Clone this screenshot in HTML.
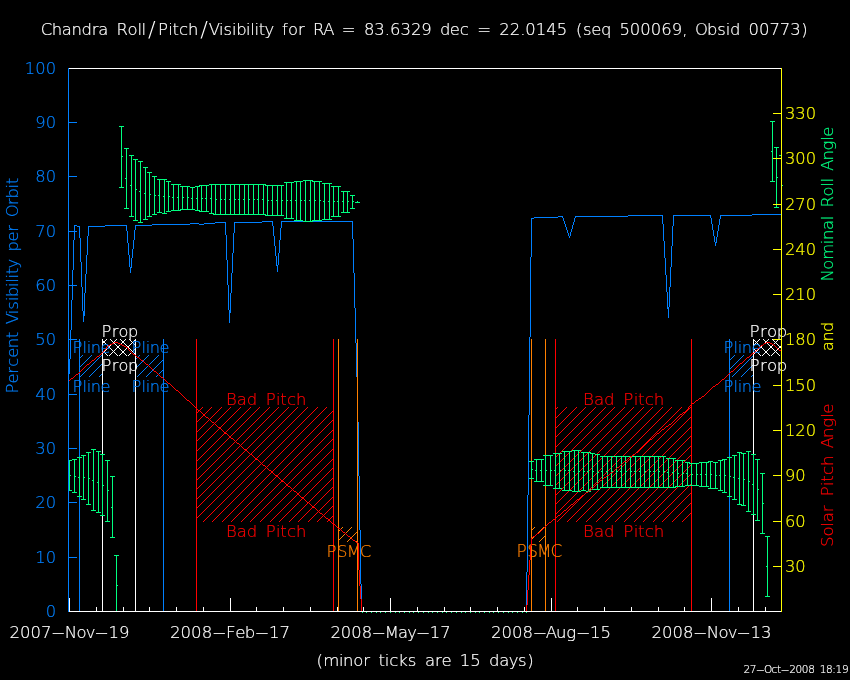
<!DOCTYPE html>
<html><head><meta charset="utf-8"><title>Chandra Roll/Pitch/Visibility</title><style>html,body{margin:0;padding:0;background:#000;width:850px;height:680px;overflow:hidden}svg{display:block;will-change:transform}text{shape-rendering:auto}</style></head><body>
<svg width="850" height="680" viewBox="0 0 850 680" shape-rendering="crispEdges">
<rect x="0" y="0" width="850" height="680" fill="#000"/>
<path fill="#0080ff" d="M752 214h29v1h-29zM628 215h35v1h-35zM673 215h38v1h-38zM720 215h32v1h-32zM558 216h5v1h-5zM575 216h53v1h-53zM662 216h1v8h-1zM673 216h1v10h-1zM710 216h1v2h-1zM720 216h1v3h-1zM534 217h24v1h-24zM562 217h1v1h-1zM575 217h1v1h-1zM531 218h3v1h-3zM563 218h1v3h-1zM574 218h1v4h-1zM711 218h1v6h-1zM531 219h1v38h-1zM719 219h1v6h-1zM262 221h11v1h-11zM281 221h72v1h-72zM564 221h1v3h-1zM215 222h11v1h-11zM234 222h28v1h-28zM272 222h1v4h-1zM281 222h1v6h-1zM352 222h1v17h-1zM573 222h1v3h-1zM190 223h9v1h-9zM204 223h11v1h-11zM225 223h1v12h-1zM234 223h1v10h-1zM152 224h38v1h-38zM199 224h5v1h-5zM565 224h1v3h-1zM663 224h1v17h-1zM712 224h1v6h-1zM74 225h3v1h-3zM105 225h22v1h-22zM135 225h17v1h-17zM572 225h1v4h-1zM718 225h1v6h-1zM74 226h1v14h-1zM77 226h3v1h-3zM88 226h17v1h-17zM126 226h1v5h-1zM135 226h1v4h-1zM273 226h1v10h-1zM672 226h1v20h-1zM79 227h1v11h-1zM88 227h1v9h-1zM566 227h1v3h-1zM280 228h1v12h-1zM571 229h1v3h-1zM134 230h1v10h-1zM567 230h1v3h-1zM713 230h1v6h-1zM127 231h1v12h-1zM717 231h1v6h-1zM570 232h1v4h-1zM233 233h1v20h-1zM568 233h1v3h-1zM226 235h1v25h-1zM87 236h1v19h-1zM274 236h1v10h-1zM569 236h1v2h-1zM714 236h1v6h-1zM716 237h1v6h-1zM80 238h1v24h-1zM353 239h1v34h-1zM73 240h1v30h-1zM133 240h1v9h-1zM279 240h1v13h-1zM664 241h1v17h-1zM715 242h1v4h-1zM128 243h1v12h-1zM275 246h1v10h-1zM671 246h1v21h-1zM132 249h1v9h-1zM232 253h1v20h-1zM278 253h1v12h-1zM86 255h1v19h-1zM129 255h1v12h-1zM276 256h1v10h-1zM530 257h1v80h-1zM131 258h1v10h-1zM665 258h1v17h-1zM227 260h1v25h-1zM81 262h1v25h-1zM277 265h1v7h-1zM130 267h1v6h-1zM670 267h1v20h-1zM72 270h1v30h-1zM231 273h1v20h-1zM354 273h1v35h-1zM85 274h1v19h-1zM666 275h1v17h-1zM228 285h1v25h-1zM82 287h1v24h-1zM669 287h1v20h-1zM667 292h1v17h-1zM84 293h1v23h-1zM230 293h1v20h-1zM71 300h1v30h-1zM668 307h1v11h-1zM355 308h1v35h-1zM229 310h1v13h-1zM83 311h1v11h-1zM70 330h1v29h-1zM529 337h1v78h-1zM356 343h1v34h-1zM69 359h1v15h-1zM68 374h1v27h-1zM357 377h1v45h-1zM528 415h1v80h-1zM358 422h1v54h-1zM359 476h1v54h-1zM527 495h1v77h-1zM360 530h1v54h-1zM526 572h1v39h-1zM361 584h1v27h-1z"/>
<path fill="#ff0000" d="M202 407h1v1h-1zM211 407h1v1h-1zM221 407h1v1h-1zM230 407h1v1h-1zM240 407h1v1h-1zM250 407h1v1h-1zM259 407h1v1h-1zM269 407h1v1h-1zM278 407h1v1h-1zM288 407h1v1h-1zM297 407h1v1h-1zM307 407h1v1h-1zM317 407h1v1h-1zM326 407h1v1h-1zM201 408h1v1h-1zM210 408h1v1h-1zM220 408h1v1h-1zM229 408h1v1h-1zM239 408h1v1h-1zM249 408h1v1h-1zM258 408h1v1h-1zM268 408h1v1h-1zM277 408h1v1h-1zM287 408h1v1h-1zM296 408h1v1h-1zM306 408h1v1h-1zM316 408h1v1h-1zM325 408h1v1h-1zM200 409h1v1h-1zM209 409h1v1h-1zM219 409h1v1h-1zM228 409h1v1h-1zM238 409h1v1h-1zM248 409h1v1h-1zM257 409h1v1h-1zM267 409h1v1h-1zM276 409h1v1h-1zM286 409h1v1h-1zM295 409h1v1h-1zM305 409h1v1h-1zM315 409h1v1h-1zM324 409h1v1h-1zM199 410h1v1h-1zM208 410h1v1h-1zM218 410h1v1h-1zM227 410h1v1h-1zM237 410h1v1h-1zM247 410h1v1h-1zM256 410h1v1h-1zM266 410h1v1h-1zM275 410h1v1h-1zM285 410h1v1h-1zM294 410h1v1h-1zM304 410h1v1h-1zM314 410h1v1h-1zM323 410h1v1h-1zM198 411h1v1h-1zM207 411h1v1h-1zM217 411h1v1h-1zM226 411h1v1h-1zM236 411h1v1h-1zM246 411h1v1h-1zM255 411h1v1h-1zM265 411h1v1h-1zM274 411h1v1h-1zM284 411h1v1h-1zM293 411h1v1h-1zM303 411h1v1h-1zM313 411h1v1h-1zM322 411h1v1h-1zM332 411h1v1h-1zM197 412h1v1h-1zM206 412h1v1h-1zM216 412h1v1h-1zM225 412h1v1h-1zM235 412h1v1h-1zM245 412h1v1h-1zM254 412h1v1h-1zM264 412h1v1h-1zM273 412h1v1h-1zM283 412h1v1h-1zM292 412h1v1h-1zM302 412h1v1h-1zM312 412h1v1h-1zM321 412h1v1h-1zM331 412h1v1h-1zM205 413h1v1h-1zM215 413h1v1h-1zM224 413h1v1h-1zM234 413h1v1h-1zM244 413h1v1h-1zM253 413h1v1h-1zM263 413h1v1h-1zM272 413h1v1h-1zM282 413h1v1h-1zM291 413h1v1h-1zM301 413h1v1h-1zM311 413h1v1h-1zM320 413h1v1h-1zM330 413h1v1h-1zM204 414h1v1h-1zM214 414h1v1h-1zM223 414h1v1h-1zM233 414h1v1h-1zM243 414h1v1h-1zM252 414h1v1h-1zM262 414h1v1h-1zM271 414h1v1h-1zM281 414h1v1h-1zM290 414h1v1h-1zM300 414h1v1h-1zM310 414h1v1h-1zM319 414h1v1h-1zM329 414h1v1h-1zM203 415h1v1h-1zM213 415h1v1h-1zM222 415h1v1h-1zM232 415h1v1h-1zM242 415h1v1h-1zM251 415h1v1h-1zM261 415h1v1h-1zM270 415h1v1h-1zM280 415h1v1h-1zM289 415h1v1h-1zM299 415h1v1h-1zM309 415h1v1h-1zM318 415h1v1h-1zM328 415h1v1h-1zM202 416h1v1h-1zM212 416h1v1h-1zM221 416h1v1h-1zM231 416h1v1h-1zM241 416h1v1h-1zM250 416h1v1h-1zM260 416h1v1h-1zM269 416h1v1h-1zM279 416h1v1h-1zM288 416h1v1h-1zM298 416h1v1h-1zM308 416h1v1h-1zM317 416h1v1h-1zM327 416h1v1h-1zM201 417h1v1h-1zM211 417h1v1h-1zM220 417h1v1h-1zM230 417h1v1h-1zM240 417h1v1h-1zM249 417h1v1h-1zM259 417h1v1h-1zM268 417h1v1h-1zM278 417h1v1h-1zM287 417h1v1h-1zM297 417h1v1h-1zM307 417h1v1h-1zM316 417h1v1h-1zM326 417h1v1h-1zM200 418h1v1h-1zM210 418h1v1h-1zM219 418h1v1h-1zM229 418h1v1h-1zM239 418h1v1h-1zM248 418h1v1h-1zM258 418h1v1h-1zM267 418h1v1h-1zM277 418h1v1h-1zM286 418h1v1h-1zM296 418h1v1h-1zM306 418h1v1h-1zM315 418h1v1h-1zM325 418h1v1h-1zM199 419h1v1h-1zM209 419h1v1h-1zM218 419h1v1h-1zM228 419h1v1h-1zM238 419h1v1h-1zM247 419h1v1h-1zM257 419h1v1h-1zM266 419h1v1h-1zM276 419h1v1h-1zM285 419h1v1h-1zM295 419h1v1h-1zM305 419h1v1h-1zM314 419h1v1h-1zM324 419h1v1h-1zM198 420h1v1h-1zM208 420h1v1h-1zM217 420h1v1h-1zM227 420h1v1h-1zM237 420h1v1h-1zM246 420h1v1h-1zM256 420h1v1h-1zM265 420h1v1h-1zM275 420h1v1h-1zM284 420h1v1h-1zM294 420h1v1h-1zM304 420h1v1h-1zM313 420h1v1h-1zM323 420h1v1h-1zM332 420h1v1h-1zM197 421h1v1h-1zM207 421h1v1h-1zM216 421h1v1h-1zM226 421h1v1h-1zM236 421h1v1h-1zM245 421h1v1h-1zM255 421h1v1h-1zM264 421h1v1h-1zM274 421h1v1h-1zM283 421h1v1h-1zM293 421h1v1h-1zM303 421h1v1h-1zM312 421h1v1h-1zM322 421h1v1h-1zM331 421h1v1h-1zM206 422h1v1h-1zM215 422h1v1h-1zM225 422h1v1h-1zM235 422h1v1h-1zM244 422h1v1h-1zM254 422h1v1h-1zM263 422h1v1h-1zM273 422h1v1h-1zM282 422h1v1h-1zM292 422h1v1h-1zM302 422h1v1h-1zM311 422h1v1h-1zM321 422h1v1h-1zM330 422h1v1h-1zM205 423h1v1h-1zM214 423h1v1h-1zM224 423h1v1h-1zM234 423h1v1h-1zM243 423h1v1h-1zM253 423h1v1h-1zM262 423h1v1h-1zM272 423h1v1h-1zM281 423h1v1h-1zM291 423h1v1h-1zM301 423h1v1h-1zM310 423h1v1h-1zM320 423h1v1h-1zM329 423h1v1h-1zM204 424h1v1h-1zM213 424h1v1h-1zM223 424h1v1h-1zM233 424h1v1h-1zM242 424h1v1h-1zM252 424h1v1h-1zM261 424h1v1h-1zM271 424h1v1h-1zM280 424h1v1h-1zM290 424h1v1h-1zM300 424h1v1h-1zM309 424h1v1h-1zM319 424h1v1h-1zM328 424h1v1h-1zM203 425h1v1h-1zM212 425h1v1h-1zM222 425h1v1h-1zM232 425h1v1h-1zM241 425h1v1h-1zM251 425h1v1h-1zM260 425h1v1h-1zM270 425h1v1h-1zM279 425h1v1h-1zM289 425h1v1h-1zM299 425h1v1h-1zM308 425h1v1h-1zM318 425h1v1h-1zM327 425h1v1h-1zM202 426h1v1h-1zM211 426h1v1h-1zM221 426h1v1h-1zM231 426h1v1h-1zM240 426h1v1h-1zM250 426h1v1h-1zM259 426h1v1h-1zM269 426h1v1h-1zM278 426h1v1h-1zM288 426h1v1h-1zM298 426h1v1h-1zM307 426h1v1h-1zM317 426h1v1h-1zM326 426h1v1h-1zM201 427h1v1h-1zM210 427h1v1h-1zM220 427h1v1h-1zM230 427h1v1h-1zM239 427h1v1h-1zM249 427h1v1h-1zM258 427h1v1h-1zM268 427h1v1h-1zM277 427h1v1h-1zM287 427h1v1h-1zM297 427h1v1h-1zM306 427h1v1h-1zM316 427h1v1h-1zM325 427h1v1h-1zM200 428h1v1h-1zM209 428h1v1h-1zM219 428h1v1h-1zM229 428h1v1h-1zM238 428h1v1h-1zM248 428h1v1h-1zM257 428h1v1h-1zM267 428h1v1h-1zM276 428h1v1h-1zM286 428h1v1h-1zM296 428h1v1h-1zM305 428h1v1h-1zM315 428h1v1h-1zM324 428h1v1h-1zM199 429h1v1h-1zM208 429h1v1h-1zM218 429h1v1h-1zM228 429h1v1h-1zM237 429h1v1h-1zM247 429h1v1h-1zM256 429h1v1h-1zM266 429h1v1h-1zM275 429h1v1h-1zM285 429h1v1h-1zM295 429h1v1h-1zM304 429h1v1h-1zM314 429h1v1h-1zM323 429h1v1h-1zM198 430h1v1h-1zM207 430h1v1h-1zM217 430h1v1h-1zM227 430h1v1h-1zM236 430h1v1h-1zM246 430h1v1h-1zM255 430h1v1h-1zM265 430h1v1h-1zM274 430h1v1h-1zM284 430h1v1h-1zM294 430h1v1h-1zM303 430h1v1h-1zM313 430h1v1h-1zM322 430h1v1h-1zM332 430h1v1h-1zM197 431h1v1h-1zM206 431h1v1h-1zM216 431h1v1h-1zM226 431h1v1h-1zM235 431h1v1h-1zM245 431h1v1h-1zM254 431h1v1h-1zM264 431h1v1h-1zM273 431h1v1h-1zM283 431h1v1h-1zM293 431h1v1h-1zM302 431h1v1h-1zM312 431h1v1h-1zM321 431h1v1h-1zM331 431h1v1h-1zM205 432h1v1h-1zM215 432h1v1h-1zM225 432h1v1h-1zM234 432h1v1h-1zM244 432h1v1h-1zM253 432h1v1h-1zM263 432h1v1h-1zM272 432h1v1h-1zM282 432h1v1h-1zM292 432h1v1h-1zM301 432h1v1h-1zM311 432h1v1h-1zM320 432h1v1h-1zM330 432h1v1h-1zM204 433h1v1h-1zM214 433h1v1h-1zM224 433h1v1h-1zM233 433h1v1h-1zM243 433h1v1h-1zM252 433h1v1h-1zM262 433h1v1h-1zM271 433h1v1h-1zM281 433h1v1h-1zM291 433h1v1h-1zM300 433h1v1h-1zM310 433h1v1h-1zM319 433h1v1h-1zM329 433h1v1h-1zM203 434h1v1h-1zM213 434h1v1h-1zM223 434h1v1h-1zM232 434h1v1h-1zM242 434h1v1h-1zM251 434h1v1h-1zM261 434h1v1h-1zM270 434h1v1h-1zM280 434h1v1h-1zM290 434h1v1h-1zM299 434h1v1h-1zM309 434h1v1h-1zM318 434h1v1h-1zM328 434h1v1h-1zM202 435h1v1h-1zM212 435h1v1h-1zM222 435h1v1h-1zM231 435h1v1h-1zM241 435h1v1h-1zM250 435h1v1h-1zM260 435h1v1h-1zM269 435h1v1h-1zM279 435h1v1h-1zM289 435h1v1h-1zM298 435h1v1h-1zM308 435h1v1h-1zM317 435h1v1h-1zM327 435h1v1h-1zM201 436h1v1h-1zM211 436h1v1h-1zM221 436h1v1h-1zM230 436h1v1h-1zM240 436h1v1h-1zM249 436h1v1h-1zM259 436h1v1h-1zM268 436h1v1h-1zM278 436h1v1h-1zM288 436h1v1h-1zM297 436h1v1h-1zM307 436h1v1h-1zM316 436h1v1h-1zM326 436h1v1h-1zM200 437h1v1h-1zM210 437h1v1h-1zM220 437h1v1h-1zM229 437h1v1h-1zM239 437h1v1h-1zM248 437h1v1h-1zM258 437h1v1h-1zM267 437h1v1h-1zM277 437h1v1h-1zM287 437h1v1h-1zM296 437h1v1h-1zM306 437h1v1h-1zM315 437h1v1h-1zM325 437h1v1h-1zM199 438h1v1h-1zM209 438h1v1h-1zM219 438h1v1h-1zM228 438h1v1h-1zM238 438h1v1h-1zM247 438h1v1h-1zM257 438h1v1h-1zM266 438h1v1h-1zM276 438h1v1h-1zM286 438h1v1h-1zM295 438h1v1h-1zM305 438h1v1h-1zM314 438h1v1h-1zM324 438h1v1h-1zM198 439h1v1h-1zM208 439h1v1h-1zM218 439h1v1h-1zM227 439h1v1h-1zM237 439h1v1h-1zM246 439h1v1h-1zM256 439h1v1h-1zM265 439h1v1h-1zM275 439h1v1h-1zM285 439h1v1h-1zM294 439h1v1h-1zM304 439h1v1h-1zM313 439h1v1h-1zM323 439h1v1h-1zM332 439h1v1h-1zM197 440h1v1h-1zM207 440h1v1h-1zM217 440h1v1h-1zM226 440h1v1h-1zM236 440h1v1h-1zM245 440h1v1h-1zM255 440h1v1h-1zM264 440h1v1h-1zM274 440h1v1h-1zM284 440h1v1h-1zM293 440h1v1h-1zM303 440h1v1h-1zM312 440h1v1h-1zM322 440h1v1h-1zM331 440h1v1h-1zM206 441h1v1h-1zM216 441h1v1h-1zM225 441h1v1h-1zM235 441h1v1h-1zM244 441h1v1h-1zM254 441h1v1h-1zM263 441h1v1h-1zM273 441h1v1h-1zM283 441h1v1h-1zM292 441h1v1h-1zM302 441h1v1h-1zM311 441h1v1h-1zM321 441h1v1h-1zM330 441h1v1h-1zM205 442h1v1h-1zM215 442h1v1h-1zM224 442h1v1h-1zM234 442h1v1h-1zM243 442h1v1h-1zM253 442h1v1h-1zM262 442h1v1h-1zM272 442h1v1h-1zM282 442h1v1h-1zM291 442h1v1h-1zM301 442h1v1h-1zM310 442h1v1h-1zM320 442h1v1h-1zM329 442h1v1h-1zM204 443h1v1h-1zM214 443h1v1h-1zM223 443h1v1h-1zM233 443h1v1h-1zM242 443h1v1h-1zM252 443h1v1h-1zM261 443h1v1h-1zM271 443h1v1h-1zM281 443h1v1h-1zM290 443h1v1h-1zM300 443h1v1h-1zM309 443h1v1h-1zM319 443h1v1h-1zM328 443h1v1h-1zM203 444h1v1h-1zM213 444h1v1h-1zM222 444h1v1h-1zM232 444h1v1h-1zM241 444h1v1h-1zM251 444h1v1h-1zM260 444h1v1h-1zM270 444h1v1h-1zM280 444h1v1h-1zM289 444h1v1h-1zM299 444h1v1h-1zM308 444h1v1h-1zM318 444h1v1h-1zM327 444h1v1h-1zM202 445h1v1h-1zM212 445h1v1h-1zM221 445h1v1h-1zM231 445h1v1h-1zM240 445h1v1h-1zM250 445h1v1h-1zM259 445h1v1h-1zM269 445h1v1h-1zM279 445h1v1h-1zM288 445h1v1h-1zM298 445h1v1h-1zM307 445h1v1h-1zM317 445h1v1h-1zM326 445h1v1h-1zM201 446h1v1h-1zM211 446h1v1h-1zM220 446h1v1h-1zM230 446h1v1h-1zM239 446h1v1h-1zM249 446h1v1h-1zM258 446h1v1h-1zM268 446h1v1h-1zM278 446h1v1h-1zM287 446h1v1h-1zM297 446h1v1h-1zM306 446h1v1h-1zM316 446h1v1h-1zM325 446h1v1h-1zM200 447h1v1h-1zM210 447h1v1h-1zM219 447h1v1h-1zM229 447h1v1h-1zM238 447h1v1h-1zM248 447h1v1h-1zM257 447h1v1h-1zM267 447h1v1h-1zM277 447h1v1h-1zM286 447h1v1h-1zM296 447h1v1h-1zM305 447h1v1h-1zM315 447h1v1h-1zM324 447h1v1h-1zM199 448h1v1h-1zM209 448h1v1h-1zM218 448h1v1h-1zM228 448h1v1h-1zM237 448h1v1h-1zM247 448h1v1h-1zM256 448h1v1h-1zM266 448h1v1h-1zM276 448h1v1h-1zM285 448h1v1h-1zM295 448h1v1h-1zM304 448h1v1h-1zM314 448h1v1h-1zM323 448h1v1h-1zM198 449h1v1h-1zM208 449h1v1h-1zM217 449h1v1h-1zM227 449h1v1h-1zM236 449h1v1h-1zM246 449h1v1h-1zM255 449h1v1h-1zM265 449h1v1h-1zM275 449h1v1h-1zM284 449h1v1h-1zM294 449h1v1h-1zM303 449h1v1h-1zM313 449h1v1h-1zM322 449h1v1h-1zM332 449h1v1h-1zM197 450h1v1h-1zM207 450h1v1h-1zM216 450h1v1h-1zM226 450h1v1h-1zM235 450h1v1h-1zM245 450h1v1h-1zM254 450h1v1h-1zM264 450h1v1h-1zM274 450h1v1h-1zM283 450h1v1h-1zM293 450h1v1h-1zM302 450h1v1h-1zM312 450h1v1h-1zM321 450h1v1h-1zM331 450h1v1h-1zM206 451h1v1h-1zM215 451h1v1h-1zM225 451h1v1h-1zM234 451h1v1h-1zM244 451h1v1h-1zM253 451h1v1h-1zM263 451h1v1h-1zM273 451h1v1h-1zM282 451h1v1h-1zM292 451h1v1h-1zM301 451h1v1h-1zM311 451h1v1h-1zM320 451h1v1h-1zM330 451h1v1h-1zM205 452h1v1h-1zM214 452h1v1h-1zM224 452h1v1h-1zM233 452h1v1h-1zM243 452h1v1h-1zM252 452h1v1h-1zM262 452h1v1h-1zM272 452h1v1h-1zM281 452h1v1h-1zM291 452h1v1h-1zM300 452h1v1h-1zM310 452h1v1h-1zM319 452h1v1h-1zM329 452h1v1h-1zM204 453h1v1h-1zM213 453h1v1h-1zM223 453h1v1h-1zM232 453h1v1h-1zM242 453h1v1h-1zM251 453h1v1h-1zM261 453h1v1h-1zM271 453h1v1h-1zM280 453h1v1h-1zM290 453h1v1h-1zM299 453h1v1h-1zM309 453h1v1h-1zM318 453h1v1h-1zM328 453h1v1h-1zM203 454h1v1h-1zM212 454h1v1h-1zM222 454h1v1h-1zM231 454h1v1h-1zM241 454h1v1h-1zM250 454h1v1h-1zM260 454h1v1h-1zM270 454h1v1h-1zM279 454h1v1h-1zM289 454h1v1h-1zM298 454h1v1h-1zM308 454h1v1h-1zM317 454h1v1h-1zM327 454h1v1h-1zM202 455h1v1h-1zM211 455h1v1h-1zM221 455h1v1h-1zM230 455h1v1h-1zM240 455h1v1h-1zM249 455h1v1h-1zM259 455h1v1h-1zM269 455h1v1h-1zM278 455h1v1h-1zM288 455h1v1h-1zM297 455h1v1h-1zM307 455h1v1h-1zM316 455h1v1h-1zM326 455h1v1h-1zM201 456h1v1h-1zM210 456h1v1h-1zM220 456h1v1h-1zM229 456h1v1h-1zM239 456h1v1h-1zM248 456h1v1h-1zM258 456h1v1h-1zM268 456h1v1h-1zM277 456h1v1h-1zM287 456h1v1h-1zM296 456h1v1h-1zM306 456h1v1h-1zM315 456h1v1h-1zM325 456h1v1h-1zM200 457h1v1h-1zM209 457h1v1h-1zM219 457h1v1h-1zM228 457h1v1h-1zM238 457h1v1h-1zM247 457h1v1h-1zM257 457h1v1h-1zM267 457h1v1h-1zM276 457h1v1h-1zM286 457h1v1h-1zM295 457h1v1h-1zM305 457h1v1h-1zM314 457h1v1h-1zM324 457h1v1h-1zM199 458h1v1h-1zM208 458h1v1h-1zM218 458h1v1h-1zM227 458h1v1h-1zM237 458h1v1h-1zM246 458h1v1h-1zM256 458h1v1h-1zM266 458h1v1h-1zM275 458h1v1h-1zM285 458h1v1h-1zM294 458h1v1h-1zM304 458h1v1h-1zM313 458h1v1h-1zM323 458h1v1h-1zM198 459h1v1h-1zM207 459h1v1h-1zM217 459h1v1h-1zM226 459h1v1h-1zM236 459h1v1h-1zM245 459h1v1h-1zM255 459h1v1h-1zM265 459h1v1h-1zM274 459h1v1h-1zM284 459h1v1h-1zM293 459h1v1h-1zM303 459h1v1h-1zM312 459h1v1h-1zM322 459h1v1h-1zM332 459h1v1h-1zM197 460h1v1h-1zM206 460h1v1h-1zM216 460h1v1h-1zM225 460h1v1h-1zM235 460h1v1h-1zM244 460h1v1h-1zM254 460h1v1h-1zM264 460h1v1h-1zM273 460h1v1h-1zM283 460h1v1h-1zM292 460h1v1h-1zM302 460h1v1h-1zM311 460h1v1h-1zM321 460h1v1h-1zM331 460h1v1h-1zM205 461h1v1h-1zM215 461h1v1h-1zM224 461h1v1h-1zM234 461h1v1h-1zM243 461h1v1h-1zM253 461h1v1h-1zM263 461h1v1h-1zM272 461h1v1h-1zM282 461h1v1h-1zM291 461h1v1h-1zM301 461h1v1h-1zM310 461h1v1h-1zM320 461h1v1h-1zM330 461h1v1h-1zM204 462h1v1h-1zM214 462h1v1h-1zM223 462h1v1h-1zM233 462h1v1h-1zM242 462h1v1h-1zM252 462h1v1h-1zM262 462h1v1h-1zM271 462h1v1h-1zM281 462h1v1h-1zM290 462h1v1h-1zM300 462h1v1h-1zM309 462h1v1h-1zM319 462h1v1h-1zM329 462h1v1h-1zM203 463h1v1h-1zM213 463h1v1h-1zM222 463h1v1h-1zM232 463h1v1h-1zM241 463h1v1h-1zM251 463h1v1h-1zM261 463h1v1h-1zM270 463h1v1h-1zM280 463h1v1h-1zM289 463h1v1h-1zM299 463h1v1h-1zM308 463h1v1h-1zM318 463h1v1h-1zM328 463h1v1h-1zM202 464h1v1h-1zM212 464h1v1h-1zM221 464h1v1h-1zM231 464h1v1h-1zM240 464h1v1h-1zM250 464h1v1h-1zM260 464h1v1h-1zM269 464h1v1h-1zM279 464h1v1h-1zM288 464h1v1h-1zM298 464h1v1h-1zM307 464h1v1h-1zM317 464h1v1h-1zM327 464h1v1h-1zM201 465h1v1h-1zM211 465h1v1h-1zM220 465h1v1h-1zM230 465h1v1h-1zM239 465h1v1h-1zM249 465h1v1h-1zM259 465h1v1h-1zM268 465h1v1h-1zM278 465h1v1h-1zM287 465h1v1h-1zM297 465h1v1h-1zM306 465h1v1h-1zM316 465h1v1h-1zM326 465h1v1h-1zM200 466h1v1h-1zM210 466h1v1h-1zM219 466h1v1h-1zM229 466h1v1h-1zM238 466h1v1h-1zM248 466h1v1h-1zM258 466h1v1h-1zM267 466h1v1h-1zM277 466h1v1h-1zM286 466h1v1h-1zM296 466h1v1h-1zM305 466h1v1h-1zM315 466h1v1h-1zM325 466h1v1h-1zM199 467h1v1h-1zM209 467h1v1h-1zM218 467h1v1h-1zM228 467h1v1h-1zM237 467h1v1h-1zM247 467h1v1h-1zM257 467h1v1h-1zM266 467h1v1h-1zM276 467h1v1h-1zM285 467h1v1h-1zM295 467h1v1h-1zM304 467h1v1h-1zM314 467h1v1h-1zM324 467h1v1h-1zM198 468h1v1h-1zM208 468h1v1h-1zM217 468h1v1h-1zM227 468h1v1h-1zM236 468h1v1h-1zM246 468h1v1h-1zM256 468h1v1h-1zM265 468h1v1h-1zM275 468h1v1h-1zM284 468h1v1h-1zM294 468h1v1h-1zM303 468h1v1h-1zM313 468h1v1h-1zM323 468h1v1h-1zM332 468h1v1h-1zM197 469h1v1h-1zM207 469h1v1h-1zM216 469h1v1h-1zM226 469h1v1h-1zM235 469h1v1h-1zM245 469h1v1h-1zM255 469h1v1h-1zM264 469h1v1h-1zM274 469h1v1h-1zM283 469h1v1h-1zM293 469h1v1h-1zM302 469h1v1h-1zM312 469h1v1h-1zM322 469h1v1h-1zM331 469h1v1h-1zM206 470h1v1h-1zM215 470h1v1h-1zM225 470h1v1h-1zM234 470h1v1h-1zM244 470h1v1h-1zM254 470h1v1h-1zM263 470h1v1h-1zM273 470h1v1h-1zM282 470h1v1h-1zM292 470h1v1h-1zM301 470h1v1h-1zM311 470h1v1h-1zM321 470h1v1h-1zM330 470h1v1h-1zM205 471h1v1h-1zM214 471h1v1h-1zM224 471h1v1h-1zM233 471h1v1h-1zM243 471h1v1h-1zM253 471h1v1h-1zM262 471h1v1h-1zM272 471h1v1h-1zM281 471h1v1h-1zM291 471h1v1h-1zM300 471h1v1h-1zM310 471h1v1h-1zM320 471h1v1h-1zM329 471h1v1h-1zM204 472h1v1h-1zM213 472h1v1h-1zM223 472h1v1h-1zM232 472h1v1h-1zM242 472h1v1h-1zM252 472h1v1h-1zM261 472h1v1h-1zM271 472h1v1h-1zM280 472h1v1h-1zM290 472h1v1h-1zM299 472h1v1h-1zM309 472h1v1h-1zM319 472h1v1h-1zM328 472h1v1h-1zM203 473h1v1h-1zM212 473h1v1h-1zM222 473h1v1h-1zM231 473h1v1h-1zM241 473h1v1h-1zM251 473h1v1h-1zM260 473h1v1h-1zM270 473h1v1h-1zM279 473h1v1h-1zM289 473h1v1h-1zM298 473h1v1h-1zM308 473h1v1h-1zM318 473h1v1h-1zM327 473h1v1h-1zM202 474h1v1h-1zM211 474h1v1h-1zM221 474h1v1h-1zM230 474h1v1h-1zM240 474h1v1h-1zM250 474h1v1h-1zM259 474h1v1h-1zM269 474h1v1h-1zM278 474h1v1h-1zM288 474h1v1h-1zM297 474h1v1h-1zM307 474h1v1h-1zM317 474h1v1h-1zM326 474h1v1h-1zM201 475h1v1h-1zM210 475h1v1h-1zM220 475h1v1h-1zM229 475h1v1h-1zM239 475h1v1h-1zM249 475h1v1h-1zM258 475h1v1h-1zM268 475h1v1h-1zM277 475h1v1h-1zM287 475h1v1h-1zM296 475h1v1h-1zM306 475h1v1h-1zM316 475h1v1h-1zM325 475h1v1h-1zM200 476h1v1h-1zM209 476h1v1h-1zM219 476h1v1h-1zM228 476h1v1h-1zM238 476h1v1h-1zM248 476h1v1h-1zM257 476h1v1h-1zM267 476h1v1h-1zM276 476h1v1h-1zM286 476h1v1h-1zM295 476h1v1h-1zM305 476h1v1h-1zM315 476h1v1h-1zM324 476h1v1h-1zM199 477h1v1h-1zM208 477h1v1h-1zM218 477h1v1h-1zM227 477h1v1h-1zM237 477h1v1h-1zM247 477h1v1h-1zM256 477h1v1h-1zM266 477h1v1h-1zM275 477h1v1h-1zM285 477h1v1h-1zM294 477h1v1h-1zM304 477h1v1h-1zM314 477h1v1h-1zM323 477h1v1h-1zM198 478h1v1h-1zM207 478h1v1h-1zM217 478h1v1h-1zM226 478h1v1h-1zM236 478h1v1h-1zM246 478h1v1h-1zM255 478h1v1h-1zM265 478h1v1h-1zM274 478h1v1h-1zM284 478h1v1h-1zM293 478h1v1h-1zM303 478h1v1h-1zM313 478h1v1h-1zM322 478h1v1h-1zM332 478h1v1h-1zM197 479h1v1h-1zM206 479h1v1h-1zM216 479h1v1h-1zM225 479h1v1h-1zM235 479h1v1h-1zM245 479h1v1h-1zM254 479h1v1h-1zM264 479h1v1h-1zM273 479h1v1h-1zM283 479h1v1h-1zM292 479h1v1h-1zM302 479h1v1h-1zM312 479h1v1h-1zM321 479h1v1h-1zM331 479h1v1h-1zM205 480h1v1h-1zM215 480h1v1h-1zM224 480h1v1h-1zM234 480h1v1h-1zM244 480h1v1h-1zM253 480h1v1h-1zM263 480h1v1h-1zM272 480h1v1h-1zM282 480h1v1h-1zM291 480h1v1h-1zM301 480h1v1h-1zM311 480h1v1h-1zM320 480h1v1h-1zM330 480h1v1h-1zM204 481h1v1h-1zM214 481h1v1h-1zM223 481h1v1h-1zM233 481h1v1h-1zM243 481h1v1h-1zM252 481h1v1h-1zM262 481h1v1h-1zM271 481h1v1h-1zM281 481h1v1h-1zM290 481h1v1h-1zM300 481h1v1h-1zM310 481h1v1h-1zM319 481h1v1h-1zM329 481h1v1h-1zM203 482h1v1h-1zM213 482h1v1h-1zM222 482h1v1h-1zM232 482h1v1h-1zM242 482h1v1h-1zM251 482h1v1h-1zM261 482h1v1h-1zM270 482h1v1h-1zM280 482h1v1h-1zM289 482h1v1h-1zM299 482h1v1h-1zM309 482h1v1h-1zM318 482h1v1h-1zM328 482h1v1h-1zM202 483h1v1h-1zM212 483h1v1h-1zM221 483h1v1h-1zM231 483h1v1h-1zM241 483h1v1h-1zM250 483h1v1h-1zM260 483h1v1h-1zM269 483h1v1h-1zM279 483h1v1h-1zM288 483h1v1h-1zM298 483h1v1h-1zM308 483h1v1h-1zM317 483h1v1h-1zM327 483h1v1h-1zM201 484h1v1h-1zM211 484h1v1h-1zM220 484h1v1h-1zM230 484h1v1h-1zM240 484h1v1h-1zM249 484h1v1h-1zM259 484h1v1h-1zM268 484h1v1h-1zM278 484h1v1h-1zM287 484h1v1h-1zM297 484h1v1h-1zM307 484h1v1h-1zM316 484h1v1h-1zM326 484h1v1h-1zM200 485h1v1h-1zM210 485h1v1h-1zM219 485h1v1h-1zM229 485h1v1h-1zM239 485h1v1h-1zM248 485h1v1h-1zM258 485h1v1h-1zM267 485h1v1h-1zM277 485h1v1h-1zM286 485h1v1h-1zM296 485h1v1h-1zM306 485h1v1h-1zM315 485h1v1h-1zM325 485h1v1h-1zM199 486h1v1h-1zM209 486h1v1h-1zM218 486h1v1h-1zM228 486h1v1h-1zM238 486h1v1h-1zM247 486h1v1h-1zM257 486h1v1h-1zM266 486h1v1h-1zM276 486h1v1h-1zM285 486h1v1h-1zM295 486h1v1h-1zM305 486h1v1h-1zM314 486h1v1h-1zM324 486h1v1h-1zM198 487h1v1h-1zM208 487h1v1h-1zM217 487h1v1h-1zM227 487h1v1h-1zM237 487h1v1h-1zM246 487h1v1h-1zM256 487h1v1h-1zM265 487h1v1h-1zM275 487h1v1h-1zM284 487h1v1h-1zM294 487h1v1h-1zM304 487h1v1h-1zM313 487h1v1h-1zM323 487h1v1h-1zM332 487h1v1h-1zM197 488h1v1h-1zM207 488h1v1h-1zM216 488h1v1h-1zM226 488h1v1h-1zM236 488h1v1h-1zM245 488h1v1h-1zM255 488h1v1h-1zM264 488h1v1h-1zM274 488h1v1h-1zM283 488h1v1h-1zM293 488h1v1h-1zM303 488h1v1h-1zM312 488h1v1h-1zM322 488h1v1h-1zM331 488h1v1h-1zM206 489h1v1h-1zM215 489h1v1h-1zM225 489h1v1h-1zM235 489h1v1h-1zM244 489h1v1h-1zM254 489h1v1h-1zM263 489h1v1h-1zM273 489h1v1h-1zM282 489h1v1h-1zM292 489h1v1h-1zM302 489h1v1h-1zM311 489h1v1h-1zM321 489h1v1h-1zM330 489h1v1h-1zM205 490h1v1h-1zM214 490h1v1h-1zM224 490h1v1h-1zM234 490h1v1h-1zM243 490h1v1h-1zM253 490h1v1h-1zM262 490h1v1h-1zM272 490h1v1h-1zM281 490h1v1h-1zM291 490h1v1h-1zM301 490h1v1h-1zM310 490h1v1h-1zM320 490h1v1h-1zM329 490h1v1h-1zM204 491h1v1h-1zM213 491h1v1h-1zM223 491h1v1h-1zM233 491h1v1h-1zM242 491h1v1h-1zM252 491h1v1h-1zM261 491h1v1h-1zM271 491h1v1h-1zM280 491h1v1h-1zM290 491h1v1h-1zM300 491h1v1h-1zM309 491h1v1h-1zM319 491h1v1h-1zM328 491h1v1h-1zM203 492h1v1h-1zM212 492h1v1h-1zM222 492h1v1h-1zM232 492h1v1h-1zM241 492h1v1h-1zM251 492h1v1h-1zM260 492h1v1h-1zM270 492h1v1h-1zM279 492h1v1h-1zM289 492h1v1h-1zM299 492h1v1h-1zM308 492h1v1h-1zM318 492h1v1h-1zM327 492h1v1h-1zM202 493h1v1h-1zM211 493h1v1h-1zM221 493h1v1h-1zM231 493h1v1h-1zM240 493h1v1h-1zM250 493h1v1h-1zM259 493h1v1h-1zM269 493h1v1h-1zM278 493h1v1h-1zM288 493h1v1h-1zM298 493h1v1h-1zM307 493h1v1h-1zM317 493h1v1h-1zM326 493h1v1h-1zM201 494h1v1h-1zM210 494h1v1h-1zM220 494h1v1h-1zM230 494h1v1h-1zM239 494h1v1h-1zM249 494h1v1h-1zM258 494h1v1h-1zM268 494h1v1h-1zM277 494h1v1h-1zM287 494h1v1h-1zM297 494h1v1h-1zM306 494h1v1h-1zM316 494h1v1h-1zM325 494h1v1h-1zM200 495h1v1h-1zM209 495h1v1h-1zM219 495h1v1h-1zM229 495h1v1h-1zM238 495h1v1h-1zM248 495h1v1h-1zM257 495h1v1h-1zM267 495h1v1h-1zM276 495h1v1h-1zM286 495h1v1h-1zM296 495h1v1h-1zM305 495h1v1h-1zM315 495h1v1h-1zM324 495h1v1h-1zM199 496h1v1h-1zM208 496h1v1h-1zM218 496h1v1h-1zM228 496h1v1h-1zM237 496h1v1h-1zM247 496h1v1h-1zM256 496h1v1h-1zM266 496h1v1h-1zM275 496h1v1h-1zM285 496h1v1h-1zM295 496h1v1h-1zM304 496h1v1h-1zM314 496h1v1h-1zM323 496h1v1h-1zM198 497h1v1h-1zM207 497h1v1h-1zM217 497h1v1h-1zM227 497h1v1h-1zM236 497h1v1h-1zM246 497h1v1h-1zM255 497h1v1h-1zM265 497h1v1h-1zM274 497h1v1h-1zM284 497h1v1h-1zM294 497h1v1h-1zM303 497h1v1h-1zM313 497h1v1h-1zM322 497h1v1h-1zM332 497h1v1h-1zM197 498h1v1h-1zM206 498h1v1h-1zM216 498h1v1h-1zM226 498h1v1h-1zM235 498h1v1h-1zM245 498h1v1h-1zM254 498h1v1h-1zM264 498h1v1h-1zM273 498h1v1h-1zM283 498h1v1h-1zM293 498h1v1h-1zM302 498h1v1h-1zM312 498h1v1h-1zM321 498h1v1h-1zM331 498h1v1h-1zM205 499h1v1h-1zM215 499h1v1h-1zM225 499h1v1h-1zM234 499h1v1h-1zM244 499h1v1h-1zM253 499h1v1h-1zM263 499h1v1h-1zM272 499h1v1h-1zM282 499h1v1h-1zM292 499h1v1h-1zM301 499h1v1h-1zM311 499h1v1h-1zM320 499h1v1h-1zM330 499h1v1h-1zM204 500h1v1h-1zM214 500h1v1h-1zM224 500h1v1h-1zM233 500h1v1h-1zM243 500h1v1h-1zM252 500h1v1h-1zM262 500h1v1h-1zM271 500h1v1h-1zM281 500h1v1h-1zM291 500h1v1h-1zM300 500h1v1h-1zM310 500h1v1h-1zM319 500h1v1h-1zM329 500h1v1h-1zM203 501h1v1h-1zM213 501h1v1h-1zM223 501h1v1h-1zM232 501h1v1h-1zM242 501h1v1h-1zM251 501h1v1h-1zM261 501h1v1h-1zM270 501h1v1h-1zM280 501h1v1h-1zM290 501h1v1h-1zM299 501h1v1h-1zM309 501h1v1h-1zM318 501h1v1h-1zM328 501h1v1h-1zM202 502h1v1h-1zM212 502h1v1h-1zM222 502h1v1h-1zM231 502h1v1h-1zM241 502h1v1h-1zM250 502h1v1h-1zM260 502h1v1h-1zM269 502h1v1h-1zM279 502h1v1h-1zM289 502h1v1h-1zM298 502h1v1h-1zM308 502h1v1h-1zM317 502h1v1h-1zM327 502h1v1h-1zM201 503h1v1h-1zM211 503h1v1h-1zM221 503h1v1h-1zM230 503h1v1h-1zM240 503h1v1h-1zM249 503h1v1h-1zM259 503h1v1h-1zM268 503h1v1h-1zM278 503h1v1h-1zM288 503h1v1h-1zM297 503h1v1h-1zM307 503h1v1h-1zM316 503h1v1h-1zM326 503h1v1h-1zM200 504h1v1h-1zM210 504h1v1h-1zM220 504h1v1h-1zM229 504h1v1h-1zM239 504h1v1h-1zM248 504h1v1h-1zM258 504h1v1h-1zM267 504h1v1h-1zM277 504h1v1h-1zM287 504h1v1h-1zM296 504h1v1h-1zM306 504h1v1h-1zM315 504h1v1h-1zM325 504h1v1h-1zM199 505h1v1h-1zM209 505h1v1h-1zM219 505h1v1h-1zM228 505h1v1h-1zM238 505h1v1h-1zM247 505h1v1h-1zM257 505h1v1h-1zM266 505h1v1h-1zM276 505h1v1h-1zM286 505h1v1h-1zM295 505h1v1h-1zM305 505h1v1h-1zM314 505h1v1h-1zM324 505h1v1h-1zM198 506h1v1h-1zM208 506h1v1h-1zM218 506h1v1h-1zM227 506h1v1h-1zM237 506h1v1h-1zM246 506h1v1h-1zM256 506h1v1h-1zM265 506h1v1h-1zM275 506h1v1h-1zM285 506h1v1h-1zM294 506h1v1h-1zM304 506h1v1h-1zM313 506h1v1h-1zM323 506h1v1h-1zM332 506h1v1h-1zM197 507h1v1h-1zM207 507h1v1h-1zM217 507h1v1h-1zM226 507h1v1h-1zM236 507h1v1h-1zM245 507h1v1h-1zM255 507h1v1h-1zM264 507h1v1h-1zM274 507h1v1h-1zM284 507h1v1h-1zM293 507h1v1h-1zM303 507h1v1h-1zM312 507h1v1h-1zM322 507h1v1h-1zM331 507h1v1h-1zM206 508h1v1h-1zM216 508h1v1h-1zM225 508h1v1h-1zM235 508h1v1h-1zM244 508h1v1h-1zM254 508h1v1h-1zM263 508h1v1h-1zM273 508h1v1h-1zM283 508h1v1h-1zM292 508h1v1h-1zM302 508h1v1h-1zM311 508h1v1h-1zM321 508h1v1h-1zM330 508h1v1h-1zM205 509h1v1h-1zM215 509h1v1h-1zM224 509h1v1h-1zM234 509h1v1h-1zM243 509h1v1h-1zM253 509h1v1h-1zM262 509h1v1h-1zM272 509h1v1h-1zM282 509h1v1h-1zM291 509h1v1h-1zM301 509h1v1h-1zM310 509h1v1h-1zM320 509h1v1h-1zM329 509h1v1h-1zM204 510h1v1h-1zM214 510h1v1h-1zM223 510h1v1h-1zM233 510h1v1h-1zM242 510h1v1h-1zM252 510h1v1h-1zM261 510h1v1h-1zM271 510h1v1h-1zM281 510h1v1h-1zM290 510h1v1h-1zM300 510h1v1h-1zM309 510h1v1h-1zM319 510h1v1h-1zM328 510h1v1h-1zM203 511h1v1h-1zM213 511h1v1h-1zM222 511h1v1h-1zM232 511h1v1h-1zM241 511h1v1h-1zM251 511h1v1h-1zM260 511h1v1h-1zM270 511h1v1h-1zM280 511h1v1h-1zM289 511h1v1h-1zM299 511h1v1h-1zM308 511h1v1h-1zM318 511h1v1h-1zM327 511h1v1h-1zM202 512h1v1h-1zM212 512h1v1h-1zM221 512h1v1h-1zM231 512h1v1h-1zM240 512h1v1h-1zM250 512h1v1h-1zM259 512h1v1h-1zM269 512h1v1h-1zM279 512h1v1h-1zM288 512h1v1h-1zM298 512h1v1h-1zM307 512h1v1h-1zM317 512h1v1h-1zM326 512h1v1h-1zM201 513h1v1h-1zM211 513h1v1h-1zM220 513h1v1h-1zM230 513h1v1h-1zM239 513h1v1h-1zM249 513h1v1h-1zM258 513h1v1h-1zM268 513h1v1h-1zM278 513h1v1h-1zM287 513h1v1h-1zM297 513h1v1h-1zM306 513h1v1h-1zM316 513h1v1h-1zM325 513h1v1h-1zM200 514h1v1h-1zM210 514h1v1h-1zM219 514h1v1h-1zM229 514h1v1h-1zM238 514h1v1h-1zM248 514h1v1h-1zM257 514h1v1h-1zM267 514h1v1h-1zM277 514h1v1h-1zM286 514h1v1h-1zM296 514h1v1h-1zM305 514h1v1h-1zM315 514h1v1h-1zM324 514h1v1h-1zM199 515h1v1h-1zM209 515h1v1h-1zM218 515h1v1h-1zM228 515h1v1h-1zM237 515h1v1h-1zM247 515h1v1h-1zM256 515h1v1h-1zM266 515h1v1h-1zM276 515h1v1h-1zM285 515h1v1h-1zM295 515h1v1h-1zM304 515h1v1h-1zM314 515h1v1h-1zM323 515h1v1h-1zM198 516h1v1h-1zM208 516h1v1h-1zM217 516h1v1h-1zM227 516h1v1h-1zM236 516h1v1h-1zM246 516h1v1h-1zM255 516h1v1h-1zM265 516h1v1h-1zM275 516h1v1h-1zM284 516h1v1h-1zM294 516h1v1h-1zM303 516h1v1h-1zM313 516h1v1h-1zM322 516h1v1h-1zM332 516h1v1h-1zM197 517h1v1h-1zM207 517h1v1h-1zM216 517h1v1h-1zM226 517h1v1h-1zM235 517h1v1h-1zM245 517h1v1h-1zM254 517h1v1h-1zM264 517h1v1h-1zM274 517h1v1h-1zM283 517h1v1h-1zM293 517h1v1h-1zM302 517h1v1h-1zM312 517h1v1h-1zM321 517h1v1h-1zM331 517h1v1h-1zM206 518h1v1h-1zM215 518h1v1h-1zM225 518h1v1h-1zM234 518h1v1h-1zM244 518h1v1h-1zM253 518h1v1h-1zM263 518h1v1h-1zM273 518h1v1h-1zM282 518h1v1h-1zM292 518h1v1h-1zM301 518h1v1h-1zM311 518h1v1h-1zM320 518h1v1h-1zM330 518h1v1h-1zM205 519h1v1h-1zM214 519h1v1h-1zM224 519h1v1h-1zM233 519h1v1h-1zM243 519h1v1h-1zM252 519h1v1h-1zM262 519h1v1h-1zM272 519h1v1h-1zM281 519h1v1h-1zM291 519h1v1h-1zM300 519h1v1h-1zM310 519h1v1h-1zM319 519h1v1h-1zM329 519h1v1h-1zM204 520h1v1h-1zM213 520h1v1h-1zM223 520h1v1h-1zM232 520h1v1h-1zM242 520h1v1h-1zM251 520h1v1h-1zM261 520h1v1h-1zM271 520h1v1h-1zM280 520h1v1h-1zM290 520h1v1h-1zM299 520h1v1h-1zM309 520h1v1h-1zM318 520h1v1h-1zM328 520h1v1h-1zM203 521h1v1h-1zM212 521h1v1h-1zM222 521h1v1h-1zM231 521h1v1h-1zM241 521h1v1h-1zM250 521h1v1h-1zM260 521h1v1h-1zM270 521h1v1h-1zM279 521h1v1h-1zM289 521h1v1h-1zM298 521h1v1h-1zM308 521h1v1h-1zM317 521h1v1h-1zM327 521h1v1h-1z"/>
<path fill="#ff0000" d="M557 407h1v1h-1zM566 407h1v1h-1zM576 407h1v1h-1zM585 407h1v1h-1zM595 407h1v1h-1zM605 407h1v1h-1zM614 407h1v1h-1zM624 407h1v1h-1zM633 407h1v1h-1zM643 407h1v1h-1zM652 407h1v1h-1zM662 407h1v1h-1zM671 407h1v1h-1zM681 407h1v1h-1zM690 407h1v1h-1zM556 408h1v1h-1zM565 408h1v1h-1zM575 408h1v1h-1zM584 408h1v1h-1zM594 408h1v1h-1zM604 408h1v1h-1zM613 408h1v1h-1zM623 408h1v1h-1zM632 408h1v1h-1zM642 408h1v1h-1zM651 408h1v1h-1zM661 408h1v1h-1zM670 408h1v1h-1zM680 408h1v1h-1zM689 408h1v1h-1zM564 409h1v1h-1zM574 409h1v1h-1zM583 409h1v1h-1zM593 409h1v1h-1zM603 409h1v1h-1zM612 409h1v1h-1zM622 409h1v1h-1zM631 409h1v1h-1zM641 409h1v1h-1zM650 409h1v1h-1zM660 409h1v1h-1zM669 409h1v1h-1zM679 409h1v1h-1zM688 409h1v1h-1zM563 410h1v1h-1zM573 410h1v1h-1zM582 410h1v1h-1zM592 410h1v1h-1zM602 410h1v1h-1zM611 410h1v1h-1zM621 410h1v1h-1zM630 410h1v1h-1zM640 410h1v1h-1zM649 410h1v1h-1zM659 410h1v1h-1zM668 410h1v1h-1zM678 410h1v1h-1zM687 410h1v1h-1zM562 411h1v1h-1zM572 411h1v1h-1zM581 411h1v1h-1zM591 411h1v1h-1zM601 411h1v1h-1zM610 411h1v1h-1zM620 411h1v1h-1zM629 411h1v1h-1zM639 411h1v1h-1zM648 411h1v1h-1zM658 411h1v1h-1zM667 411h1v1h-1zM677 411h1v1h-1zM686 411h1v1h-1zM561 412h1v1h-1zM571 412h1v1h-1zM580 412h1v1h-1zM590 412h1v1h-1zM600 412h1v1h-1zM609 412h1v1h-1zM619 412h1v1h-1zM628 412h1v1h-1zM638 412h1v1h-1zM647 412h1v1h-1zM657 412h1v1h-1zM666 412h1v1h-1zM676 412h1v1h-1zM685 412h1v1h-1zM560 413h1v1h-1zM570 413h1v1h-1zM579 413h1v1h-1zM589 413h1v1h-1zM599 413h1v1h-1zM608 413h1v1h-1zM618 413h1v1h-1zM627 413h1v1h-1zM637 413h1v1h-1zM646 413h1v1h-1zM656 413h1v1h-1zM665 413h1v1h-1zM675 413h1v1h-1zM684 413h1v1h-1zM559 414h1v1h-1zM569 414h1v1h-1zM578 414h1v1h-1zM588 414h1v1h-1zM598 414h1v1h-1zM607 414h1v1h-1zM617 414h1v1h-1zM626 414h1v1h-1zM636 414h1v1h-1zM645 414h1v1h-1zM655 414h1v1h-1zM664 414h1v1h-1zM674 414h1v1h-1zM683 414h1v1h-1zM558 415h1v1h-1zM568 415h1v1h-1zM577 415h1v1h-1zM587 415h1v1h-1zM597 415h1v1h-1zM606 415h1v1h-1zM616 415h1v1h-1zM625 415h1v1h-1zM635 415h1v1h-1zM644 415h1v1h-1zM654 415h1v1h-1zM663 415h1v1h-1zM673 415h1v1h-1zM682 415h1v1h-1zM557 416h1v1h-1zM567 416h1v1h-1zM576 416h1v1h-1zM586 416h1v1h-1zM596 416h1v1h-1zM605 416h1v1h-1zM615 416h1v1h-1zM624 416h1v1h-1zM634 416h1v1h-1zM643 416h1v1h-1zM653 416h1v1h-1zM662 416h1v1h-1zM672 416h1v1h-1zM681 416h1v1h-1zM556 417h1v1h-1zM566 417h1v1h-1zM575 417h1v1h-1zM585 417h1v1h-1zM595 417h1v1h-1zM604 417h1v1h-1zM614 417h1v1h-1zM623 417h1v1h-1zM633 417h1v1h-1zM642 417h1v1h-1zM652 417h1v1h-1zM661 417h1v1h-1zM671 417h1v1h-1zM680 417h1v1h-1zM690 417h1v1h-1zM565 418h1v1h-1zM574 418h1v1h-1zM584 418h1v1h-1zM594 418h1v1h-1zM603 418h1v1h-1zM613 418h1v1h-1zM622 418h1v1h-1zM632 418h1v1h-1zM641 418h1v1h-1zM651 418h1v1h-1zM660 418h1v1h-1zM670 418h1v1h-1zM679 418h1v1h-1zM689 418h1v1h-1zM564 419h1v1h-1zM573 419h1v1h-1zM583 419h1v1h-1zM593 419h1v1h-1zM602 419h1v1h-1zM612 419h1v1h-1zM621 419h1v1h-1zM631 419h1v1h-1zM640 419h1v1h-1zM650 419h1v1h-1zM659 419h1v1h-1zM669 419h1v1h-1zM678 419h1v1h-1zM688 419h1v1h-1zM563 420h1v1h-1zM572 420h1v1h-1zM582 420h1v1h-1zM592 420h1v1h-1zM601 420h1v1h-1zM611 420h1v1h-1zM620 420h1v1h-1zM630 420h1v1h-1zM639 420h1v1h-1zM649 420h1v1h-1zM658 420h1v1h-1zM668 420h1v1h-1zM677 420h1v1h-1zM687 420h1v1h-1zM562 421h1v1h-1zM571 421h1v1h-1zM581 421h1v1h-1zM591 421h1v1h-1zM600 421h1v1h-1zM610 421h1v1h-1zM619 421h1v1h-1zM629 421h1v1h-1zM638 421h1v1h-1zM648 421h1v1h-1zM657 421h1v1h-1zM667 421h1v1h-1zM676 421h1v1h-1zM686 421h1v1h-1zM561 422h1v1h-1zM570 422h1v1h-1zM580 422h1v1h-1zM590 422h1v1h-1zM599 422h1v1h-1zM609 422h1v1h-1zM618 422h1v1h-1zM628 422h1v1h-1zM637 422h1v1h-1zM647 422h1v1h-1zM656 422h1v1h-1zM666 422h1v1h-1zM675 422h1v1h-1zM685 422h1v1h-1zM560 423h1v1h-1zM569 423h1v1h-1zM579 423h1v1h-1zM589 423h1v1h-1zM598 423h1v1h-1zM608 423h1v1h-1zM617 423h1v1h-1zM627 423h1v1h-1zM636 423h1v1h-1zM646 423h1v1h-1zM655 423h1v1h-1zM665 423h1v1h-1zM674 423h1v1h-1zM684 423h1v1h-1zM559 424h1v1h-1zM568 424h1v1h-1zM578 424h1v1h-1zM588 424h1v1h-1zM597 424h1v1h-1zM607 424h1v1h-1zM616 424h1v1h-1zM626 424h1v1h-1zM635 424h1v1h-1zM645 424h1v1h-1zM654 424h1v1h-1zM664 424h1v1h-1zM673 424h1v1h-1zM683 424h1v1h-1zM558 425h1v1h-1zM567 425h1v1h-1zM577 425h1v1h-1zM587 425h1v1h-1zM596 425h1v1h-1zM606 425h1v1h-1zM615 425h1v1h-1zM625 425h1v1h-1zM634 425h1v1h-1zM644 425h1v1h-1zM653 425h1v1h-1zM663 425h1v1h-1zM672 425h1v1h-1zM682 425h1v1h-1zM557 426h1v1h-1zM566 426h1v1h-1zM576 426h1v1h-1zM586 426h1v1h-1zM595 426h1v1h-1zM605 426h1v1h-1zM614 426h1v1h-1zM624 426h1v1h-1zM633 426h1v1h-1zM643 426h1v1h-1zM652 426h1v1h-1zM662 426h1v1h-1zM671 426h1v1h-1zM681 426h1v1h-1zM556 427h1v1h-1zM565 427h1v1h-1zM575 427h1v1h-1zM585 427h1v1h-1zM594 427h1v1h-1zM604 427h1v1h-1zM613 427h1v1h-1zM623 427h1v1h-1zM632 427h1v1h-1zM642 427h1v1h-1zM651 427h1v1h-1zM661 427h1v1h-1zM670 427h1v1h-1zM680 427h1v1h-1zM690 427h1v1h-1zM564 428h1v1h-1zM574 428h1v1h-1zM584 428h1v1h-1zM593 428h1v1h-1zM603 428h1v1h-1zM612 428h1v1h-1zM622 428h1v1h-1zM631 428h1v1h-1zM641 428h1v1h-1zM650 428h1v1h-1zM660 428h1v1h-1zM669 428h1v1h-1zM679 428h1v1h-1zM689 428h1v1h-1zM563 429h1v1h-1zM573 429h1v1h-1zM583 429h1v1h-1zM592 429h1v1h-1zM602 429h1v1h-1zM611 429h1v1h-1zM621 429h1v1h-1zM630 429h1v1h-1zM640 429h1v1h-1zM649 429h1v1h-1zM659 429h1v1h-1zM668 429h1v1h-1zM678 429h1v1h-1zM688 429h1v1h-1zM562 430h1v1h-1zM572 430h1v1h-1zM582 430h1v1h-1zM591 430h1v1h-1zM601 430h1v1h-1zM610 430h1v1h-1zM620 430h1v1h-1zM629 430h1v1h-1zM639 430h1v1h-1zM648 430h1v1h-1zM658 430h1v1h-1zM667 430h1v1h-1zM677 430h1v1h-1zM687 430h1v1h-1zM561 431h1v1h-1zM571 431h1v1h-1zM581 431h1v1h-1zM590 431h1v1h-1zM600 431h1v1h-1zM609 431h1v1h-1zM619 431h1v1h-1zM628 431h1v1h-1zM638 431h1v1h-1zM647 431h1v1h-1zM657 431h1v1h-1zM666 431h1v1h-1zM676 431h1v1h-1zM686 431h1v1h-1zM560 432h1v1h-1zM570 432h1v1h-1zM580 432h1v1h-1zM589 432h1v1h-1zM599 432h1v1h-1zM608 432h1v1h-1zM618 432h1v1h-1zM627 432h1v1h-1zM637 432h1v1h-1zM646 432h1v1h-1zM656 432h1v1h-1zM665 432h1v1h-1zM675 432h1v1h-1zM685 432h1v1h-1zM559 433h1v1h-1zM569 433h1v1h-1zM579 433h1v1h-1zM588 433h1v1h-1zM598 433h1v1h-1zM607 433h1v1h-1zM617 433h1v1h-1zM626 433h1v1h-1zM636 433h1v1h-1zM645 433h1v1h-1zM655 433h1v1h-1zM664 433h1v1h-1zM674 433h1v1h-1zM684 433h1v1h-1zM558 434h1v1h-1zM568 434h1v1h-1zM578 434h1v1h-1zM587 434h1v1h-1zM597 434h1v1h-1zM606 434h1v1h-1zM616 434h1v1h-1zM625 434h1v1h-1zM635 434h1v1h-1zM644 434h1v1h-1zM654 434h1v1h-1zM663 434h1v1h-1zM673 434h1v1h-1zM683 434h1v1h-1zM557 435h1v1h-1zM567 435h1v1h-1zM577 435h1v1h-1zM586 435h1v1h-1zM596 435h1v1h-1zM605 435h1v1h-1zM615 435h1v1h-1zM624 435h1v1h-1zM634 435h1v1h-1zM643 435h1v1h-1zM653 435h1v1h-1zM662 435h1v1h-1zM672 435h1v1h-1zM682 435h1v1h-1zM556 436h1v1h-1zM566 436h1v1h-1zM576 436h1v1h-1zM585 436h1v1h-1zM595 436h1v1h-1zM604 436h1v1h-1zM614 436h1v1h-1zM623 436h1v1h-1zM633 436h1v1h-1zM642 436h1v1h-1zM652 436h1v1h-1zM661 436h1v1h-1zM671 436h1v1h-1zM681 436h1v1h-1zM690 436h1v1h-1zM565 437h1v1h-1zM575 437h1v1h-1zM584 437h1v1h-1zM594 437h1v1h-1zM603 437h1v1h-1zM613 437h1v1h-1zM622 437h1v1h-1zM632 437h1v1h-1zM641 437h1v1h-1zM651 437h1v1h-1zM660 437h1v1h-1zM670 437h1v1h-1zM680 437h1v1h-1zM689 437h1v1h-1zM564 438h1v1h-1zM574 438h1v1h-1zM583 438h1v1h-1zM593 438h1v1h-1zM602 438h1v1h-1zM612 438h1v1h-1zM621 438h1v1h-1zM631 438h1v1h-1zM640 438h1v1h-1zM650 438h1v1h-1zM659 438h1v1h-1zM669 438h1v1h-1zM679 438h1v1h-1zM688 438h1v1h-1zM563 439h1v1h-1zM573 439h1v1h-1zM582 439h1v1h-1zM592 439h1v1h-1zM601 439h1v1h-1zM611 439h1v1h-1zM620 439h1v1h-1zM630 439h1v1h-1zM639 439h1v1h-1zM649 439h1v1h-1zM658 439h1v1h-1zM668 439h1v1h-1zM678 439h1v1h-1zM687 439h1v1h-1zM562 440h1v1h-1zM572 440h1v1h-1zM581 440h1v1h-1zM591 440h1v1h-1zM600 440h1v1h-1zM610 440h1v1h-1zM619 440h1v1h-1zM629 440h1v1h-1zM638 440h1v1h-1zM648 440h1v1h-1zM657 440h1v1h-1zM667 440h1v1h-1zM677 440h1v1h-1zM686 440h1v1h-1zM561 441h1v1h-1zM571 441h1v1h-1zM580 441h1v1h-1zM590 441h1v1h-1zM599 441h1v1h-1zM609 441h1v1h-1zM618 441h1v1h-1zM628 441h1v1h-1zM637 441h1v1h-1zM647 441h1v1h-1zM656 441h1v1h-1zM666 441h1v1h-1zM676 441h1v1h-1zM685 441h1v1h-1zM560 442h1v1h-1zM570 442h1v1h-1zM579 442h1v1h-1zM589 442h1v1h-1zM598 442h1v1h-1zM608 442h1v1h-1zM617 442h1v1h-1zM627 442h1v1h-1zM636 442h1v1h-1zM646 442h1v1h-1zM655 442h1v1h-1zM665 442h1v1h-1zM675 442h1v1h-1zM684 442h1v1h-1zM559 443h1v1h-1zM569 443h1v1h-1zM578 443h1v1h-1zM588 443h1v1h-1zM597 443h1v1h-1zM607 443h1v1h-1zM616 443h1v1h-1zM626 443h1v1h-1zM635 443h1v1h-1zM645 443h1v1h-1zM654 443h1v1h-1zM664 443h1v1h-1zM674 443h1v1h-1zM683 443h1v1h-1zM558 444h1v1h-1zM568 444h1v1h-1zM577 444h1v1h-1zM587 444h1v1h-1zM596 444h1v1h-1zM606 444h1v1h-1zM615 444h1v1h-1zM625 444h1v1h-1zM634 444h1v1h-1zM644 444h1v1h-1zM653 444h1v1h-1zM663 444h1v1h-1zM673 444h1v1h-1zM682 444h1v1h-1zM557 445h1v1h-1zM567 445h1v1h-1zM576 445h1v1h-1zM586 445h1v1h-1zM595 445h1v1h-1zM605 445h1v1h-1zM614 445h1v1h-1zM624 445h1v1h-1zM633 445h1v1h-1zM643 445h1v1h-1zM652 445h1v1h-1zM662 445h1v1h-1zM672 445h1v1h-1zM681 445h1v1h-1zM556 446h1v1h-1zM566 446h1v1h-1zM575 446h1v1h-1zM585 446h1v1h-1zM594 446h1v1h-1zM604 446h1v1h-1zM613 446h1v1h-1zM623 446h1v1h-1zM632 446h1v1h-1zM642 446h1v1h-1zM651 446h1v1h-1zM661 446h1v1h-1zM671 446h1v1h-1zM680 446h1v1h-1zM690 446h1v1h-1zM565 447h1v1h-1zM574 447h1v1h-1zM584 447h1v1h-1zM593 447h1v1h-1zM603 447h1v1h-1zM612 447h1v1h-1zM622 447h1v1h-1zM631 447h1v1h-1zM641 447h1v1h-1zM650 447h1v1h-1zM660 447h1v1h-1zM670 447h1v1h-1zM679 447h1v1h-1zM689 447h1v1h-1zM564 448h1v1h-1zM573 448h1v1h-1zM583 448h1v1h-1zM592 448h1v1h-1zM602 448h1v1h-1zM611 448h1v1h-1zM621 448h1v1h-1zM630 448h1v1h-1zM640 448h1v1h-1zM649 448h1v1h-1zM659 448h1v1h-1zM669 448h1v1h-1zM678 448h1v1h-1zM688 448h1v1h-1zM563 449h1v1h-1zM572 449h1v1h-1zM582 449h1v1h-1zM591 449h1v1h-1zM601 449h1v1h-1zM610 449h1v1h-1zM620 449h1v1h-1zM629 449h1v1h-1zM639 449h1v1h-1zM648 449h1v1h-1zM658 449h1v1h-1zM668 449h1v1h-1zM677 449h1v1h-1zM687 449h1v1h-1zM562 450h1v1h-1zM571 450h1v1h-1zM581 450h1v1h-1zM590 450h1v1h-1zM600 450h1v1h-1zM609 450h1v1h-1zM619 450h1v1h-1zM628 450h1v1h-1zM638 450h1v1h-1zM647 450h1v1h-1zM657 450h1v1h-1zM667 450h1v1h-1zM676 450h1v1h-1zM686 450h1v1h-1zM561 451h1v1h-1zM570 451h1v1h-1zM580 451h1v1h-1zM589 451h1v1h-1zM599 451h1v1h-1zM608 451h1v1h-1zM618 451h1v1h-1zM627 451h1v1h-1zM637 451h1v1h-1zM646 451h1v1h-1zM656 451h1v1h-1zM666 451h1v1h-1zM675 451h1v1h-1zM685 451h1v1h-1zM560 452h1v1h-1zM569 452h1v1h-1zM579 452h1v1h-1zM588 452h1v1h-1zM598 452h1v1h-1zM607 452h1v1h-1zM617 452h1v1h-1zM626 452h1v1h-1zM636 452h1v1h-1zM645 452h1v1h-1zM655 452h1v1h-1zM665 452h1v1h-1zM674 452h1v1h-1zM684 452h1v1h-1zM559 453h1v1h-1zM568 453h1v1h-1zM578 453h1v1h-1zM587 453h1v1h-1zM597 453h1v1h-1zM606 453h1v1h-1zM616 453h1v1h-1zM625 453h1v1h-1zM635 453h1v1h-1zM644 453h1v1h-1zM654 453h1v1h-1zM664 453h1v1h-1zM673 453h1v1h-1zM683 453h1v1h-1zM558 454h1v1h-1zM567 454h1v1h-1zM577 454h1v1h-1zM586 454h1v1h-1zM596 454h1v1h-1zM605 454h1v1h-1zM615 454h1v1h-1zM624 454h1v1h-1zM634 454h1v1h-1zM643 454h1v1h-1zM653 454h1v1h-1zM663 454h1v1h-1zM672 454h1v1h-1zM682 454h1v1h-1zM557 455h1v1h-1zM566 455h1v1h-1zM576 455h1v1h-1zM585 455h1v1h-1zM595 455h1v1h-1zM604 455h1v1h-1zM614 455h1v1h-1zM623 455h1v1h-1zM633 455h1v1h-1zM642 455h1v1h-1zM652 455h1v1h-1zM662 455h1v1h-1zM671 455h1v1h-1zM681 455h1v1h-1zM690 455h1v1h-1zM556 456h1v1h-1zM565 456h1v1h-1zM575 456h1v1h-1zM584 456h1v1h-1zM594 456h1v1h-1zM603 456h1v1h-1zM613 456h1v1h-1zM622 456h1v1h-1zM632 456h1v1h-1zM641 456h1v1h-1zM651 456h1v1h-1zM661 456h1v1h-1zM670 456h1v1h-1zM680 456h1v1h-1zM689 456h1v1h-1zM564 457h1v1h-1zM574 457h1v1h-1zM583 457h1v1h-1zM593 457h1v1h-1zM602 457h1v1h-1zM612 457h1v1h-1zM621 457h1v1h-1zM631 457h1v1h-1zM640 457h1v1h-1zM650 457h1v1h-1zM660 457h1v1h-1zM669 457h1v1h-1zM679 457h1v1h-1zM688 457h1v1h-1zM563 458h1v1h-1zM573 458h1v1h-1zM582 458h1v1h-1zM592 458h1v1h-1zM601 458h1v1h-1zM611 458h1v1h-1zM620 458h1v1h-1zM630 458h1v1h-1zM639 458h1v1h-1zM649 458h1v1h-1zM659 458h1v1h-1zM668 458h1v1h-1zM678 458h1v1h-1zM687 458h1v1h-1zM562 459h1v1h-1zM572 459h1v1h-1zM581 459h1v1h-1zM591 459h1v1h-1zM600 459h1v1h-1zM610 459h1v1h-1zM619 459h1v1h-1zM629 459h1v1h-1zM638 459h1v1h-1zM648 459h1v1h-1zM658 459h1v1h-1zM667 459h1v1h-1zM677 459h1v1h-1zM686 459h1v1h-1zM561 460h1v1h-1zM571 460h1v1h-1zM580 460h1v1h-1zM590 460h1v1h-1zM599 460h1v1h-1zM609 460h1v1h-1zM618 460h1v1h-1zM628 460h1v1h-1zM637 460h1v1h-1zM647 460h1v1h-1zM657 460h1v1h-1zM666 460h1v1h-1zM676 460h1v1h-1zM685 460h1v1h-1zM560 461h1v1h-1zM570 461h1v1h-1zM579 461h1v1h-1zM589 461h1v1h-1zM598 461h1v1h-1zM608 461h1v1h-1zM617 461h1v1h-1zM627 461h1v1h-1zM636 461h1v1h-1zM646 461h1v1h-1zM656 461h1v1h-1zM665 461h1v1h-1zM675 461h1v1h-1zM684 461h1v1h-1zM559 462h1v1h-1zM569 462h1v1h-1zM578 462h1v1h-1zM588 462h1v1h-1zM597 462h1v1h-1zM607 462h1v1h-1zM616 462h1v1h-1zM626 462h1v1h-1zM635 462h1v1h-1zM645 462h1v1h-1zM655 462h1v1h-1zM664 462h1v1h-1zM674 462h1v1h-1zM683 462h1v1h-1zM558 463h1v1h-1zM568 463h1v1h-1zM577 463h1v1h-1zM587 463h1v1h-1zM596 463h1v1h-1zM606 463h1v1h-1zM615 463h1v1h-1zM625 463h1v1h-1zM634 463h1v1h-1zM644 463h1v1h-1zM654 463h1v1h-1zM663 463h1v1h-1zM673 463h1v1h-1zM682 463h1v1h-1zM557 464h1v1h-1zM567 464h1v1h-1zM576 464h1v1h-1zM586 464h1v1h-1zM595 464h1v1h-1zM605 464h1v1h-1zM614 464h1v1h-1zM624 464h1v1h-1zM633 464h1v1h-1zM643 464h1v1h-1zM653 464h1v1h-1zM662 464h1v1h-1zM672 464h1v1h-1zM681 464h1v1h-1zM556 465h1v1h-1zM566 465h1v1h-1zM575 465h1v1h-1zM585 465h1v1h-1zM594 465h1v1h-1zM604 465h1v1h-1zM613 465h1v1h-1zM623 465h1v1h-1zM632 465h1v1h-1zM642 465h1v1h-1zM652 465h1v1h-1zM661 465h1v1h-1zM671 465h1v1h-1zM680 465h1v1h-1zM690 465h1v1h-1zM565 466h1v1h-1zM574 466h1v1h-1zM584 466h1v1h-1zM593 466h1v1h-1zM603 466h1v1h-1zM612 466h1v1h-1zM622 466h1v1h-1zM631 466h1v1h-1zM641 466h1v1h-1zM651 466h1v1h-1zM660 466h1v1h-1zM670 466h1v1h-1zM679 466h1v1h-1zM689 466h1v1h-1zM564 467h1v1h-1zM573 467h1v1h-1zM583 467h1v1h-1zM592 467h1v1h-1zM602 467h1v1h-1zM611 467h1v1h-1zM621 467h1v1h-1zM630 467h1v1h-1zM640 467h1v1h-1zM650 467h1v1h-1zM659 467h1v1h-1zM669 467h1v1h-1zM678 467h1v1h-1zM688 467h1v1h-1zM563 468h1v1h-1zM572 468h1v1h-1zM582 468h1v1h-1zM591 468h1v1h-1zM601 468h1v1h-1zM610 468h1v1h-1zM620 468h1v1h-1zM629 468h1v1h-1zM639 468h1v1h-1zM649 468h1v1h-1zM658 468h1v1h-1zM668 468h1v1h-1zM677 468h1v1h-1zM687 468h1v1h-1zM562 469h1v1h-1zM571 469h1v1h-1zM581 469h1v1h-1zM590 469h1v1h-1zM600 469h1v1h-1zM609 469h1v1h-1zM619 469h1v1h-1zM628 469h1v1h-1zM638 469h1v1h-1zM648 469h1v1h-1zM657 469h1v1h-1zM667 469h1v1h-1zM676 469h1v1h-1zM686 469h1v1h-1zM561 470h1v1h-1zM570 470h1v1h-1zM580 470h1v1h-1zM589 470h1v1h-1zM599 470h1v1h-1zM608 470h1v1h-1zM618 470h1v1h-1zM627 470h1v1h-1zM637 470h1v1h-1zM647 470h1v1h-1zM656 470h1v1h-1zM666 470h1v1h-1zM675 470h1v1h-1zM685 470h1v1h-1zM560 471h1v1h-1zM569 471h1v1h-1zM579 471h1v1h-1zM588 471h1v1h-1zM598 471h1v1h-1zM607 471h1v1h-1zM617 471h1v1h-1zM626 471h1v1h-1zM636 471h1v1h-1zM646 471h1v1h-1zM655 471h1v1h-1zM665 471h1v1h-1zM674 471h1v1h-1zM684 471h1v1h-1zM559 472h1v1h-1zM568 472h1v1h-1zM578 472h1v1h-1zM587 472h1v1h-1zM597 472h1v1h-1zM606 472h1v1h-1zM616 472h1v1h-1zM625 472h1v1h-1zM635 472h1v1h-1zM645 472h1v1h-1zM654 472h1v1h-1zM664 472h1v1h-1zM673 472h1v1h-1zM683 472h1v1h-1zM558 473h1v1h-1zM567 473h1v1h-1zM577 473h1v1h-1zM586 473h1v1h-1zM596 473h1v1h-1zM605 473h1v1h-1zM615 473h1v1h-1zM624 473h1v1h-1zM634 473h1v1h-1zM644 473h1v1h-1zM653 473h1v1h-1zM663 473h1v1h-1zM672 473h1v1h-1zM682 473h1v1h-1zM557 474h1v1h-1zM566 474h1v1h-1zM576 474h1v1h-1zM585 474h1v1h-1zM595 474h1v1h-1zM604 474h1v1h-1zM614 474h1v1h-1zM623 474h1v1h-1zM633 474h1v1h-1zM643 474h1v1h-1zM652 474h1v1h-1zM662 474h1v1h-1zM671 474h1v1h-1zM681 474h1v1h-1zM690 474h1v1h-1zM556 475h1v1h-1zM565 475h1v1h-1zM575 475h1v1h-1zM584 475h1v1h-1zM594 475h1v1h-1zM603 475h1v1h-1zM613 475h1v1h-1zM622 475h1v1h-1zM632 475h1v1h-1zM642 475h1v1h-1zM651 475h1v1h-1zM661 475h1v1h-1zM670 475h1v1h-1zM680 475h1v1h-1zM689 475h1v1h-1zM564 476h1v1h-1zM574 476h1v1h-1zM583 476h1v1h-1zM593 476h1v1h-1zM602 476h1v1h-1zM612 476h1v1h-1zM621 476h1v1h-1zM631 476h1v1h-1zM641 476h1v1h-1zM650 476h1v1h-1zM660 476h1v1h-1zM669 476h1v1h-1zM679 476h1v1h-1zM688 476h1v1h-1zM563 477h1v1h-1zM573 477h1v1h-1zM582 477h1v1h-1zM592 477h1v1h-1zM601 477h1v1h-1zM611 477h1v1h-1zM620 477h1v1h-1zM630 477h1v1h-1zM640 477h1v1h-1zM649 477h1v1h-1zM659 477h1v1h-1zM668 477h1v1h-1zM678 477h1v1h-1zM687 477h1v1h-1zM562 478h1v1h-1zM572 478h1v1h-1zM581 478h1v1h-1zM591 478h1v1h-1zM600 478h1v1h-1zM610 478h1v1h-1zM619 478h1v1h-1zM629 478h1v1h-1zM639 478h1v1h-1zM648 478h1v1h-1zM658 478h1v1h-1zM667 478h1v1h-1zM677 478h1v1h-1zM686 478h1v1h-1zM561 479h1v1h-1zM571 479h1v1h-1zM580 479h1v1h-1zM590 479h1v1h-1zM599 479h1v1h-1zM609 479h1v1h-1zM618 479h1v1h-1zM628 479h1v1h-1zM638 479h1v1h-1zM647 479h1v1h-1zM657 479h1v1h-1zM666 479h1v1h-1zM676 479h1v1h-1zM685 479h1v1h-1zM560 480h1v1h-1zM570 480h1v1h-1zM579 480h1v1h-1zM589 480h1v1h-1zM598 480h1v1h-1zM608 480h1v1h-1zM617 480h1v1h-1zM627 480h1v1h-1zM637 480h1v1h-1zM646 480h1v1h-1zM656 480h1v1h-1zM665 480h1v1h-1zM675 480h1v1h-1zM684 480h1v1h-1zM559 481h1v1h-1zM569 481h1v1h-1zM578 481h1v1h-1zM588 481h1v1h-1zM597 481h1v1h-1zM607 481h1v1h-1zM616 481h1v1h-1zM626 481h1v1h-1zM636 481h1v1h-1zM645 481h1v1h-1zM655 481h1v1h-1zM664 481h1v1h-1zM674 481h1v1h-1zM683 481h1v1h-1zM558 482h1v1h-1zM568 482h1v1h-1zM577 482h1v1h-1zM587 482h1v1h-1zM596 482h1v1h-1zM606 482h1v1h-1zM615 482h1v1h-1zM625 482h1v1h-1zM635 482h1v1h-1zM644 482h1v1h-1zM654 482h1v1h-1zM663 482h1v1h-1zM673 482h1v1h-1zM682 482h1v1h-1zM557 483h1v1h-1zM567 483h1v1h-1zM576 483h1v1h-1zM586 483h1v1h-1zM595 483h1v1h-1zM605 483h1v1h-1zM614 483h1v1h-1zM624 483h1v1h-1zM634 483h1v1h-1zM643 483h1v1h-1zM653 483h1v1h-1zM662 483h1v1h-1zM672 483h1v1h-1zM681 483h1v1h-1zM556 484h1v1h-1zM566 484h1v1h-1zM575 484h1v1h-1zM585 484h1v1h-1zM594 484h1v1h-1zM604 484h1v1h-1zM613 484h1v1h-1zM623 484h1v1h-1zM633 484h1v1h-1zM642 484h1v1h-1zM652 484h1v1h-1zM661 484h1v1h-1zM671 484h1v1h-1zM680 484h1v1h-1zM690 484h1v1h-1zM565 485h1v1h-1zM574 485h1v1h-1zM584 485h1v1h-1zM593 485h1v1h-1zM603 485h1v1h-1zM612 485h1v1h-1zM622 485h1v1h-1zM632 485h1v1h-1zM641 485h1v1h-1zM651 485h1v1h-1zM660 485h1v1h-1zM670 485h1v1h-1zM679 485h1v1h-1zM689 485h1v1h-1zM564 486h1v1h-1zM573 486h1v1h-1zM583 486h1v1h-1zM592 486h1v1h-1zM602 486h1v1h-1zM611 486h1v1h-1zM621 486h1v1h-1zM631 486h1v1h-1zM640 486h1v1h-1zM650 486h1v1h-1zM659 486h1v1h-1zM669 486h1v1h-1zM678 486h1v1h-1zM688 486h1v1h-1zM563 487h1v1h-1zM572 487h1v1h-1zM582 487h1v1h-1zM591 487h1v1h-1zM601 487h1v1h-1zM610 487h1v1h-1zM620 487h1v1h-1zM630 487h1v1h-1zM639 487h1v1h-1zM649 487h1v1h-1zM658 487h1v1h-1zM668 487h1v1h-1zM677 487h1v1h-1zM687 487h1v1h-1zM562 488h1v1h-1zM571 488h1v1h-1zM581 488h1v1h-1zM590 488h1v1h-1zM600 488h1v1h-1zM609 488h1v1h-1zM619 488h1v1h-1zM629 488h1v1h-1zM638 488h1v1h-1zM648 488h1v1h-1zM657 488h1v1h-1zM667 488h1v1h-1zM676 488h1v1h-1zM686 488h1v1h-1zM561 489h1v1h-1zM570 489h1v1h-1zM580 489h1v1h-1zM589 489h1v1h-1zM599 489h1v1h-1zM608 489h1v1h-1zM618 489h1v1h-1zM628 489h1v1h-1zM637 489h1v1h-1zM647 489h1v1h-1zM656 489h1v1h-1zM666 489h1v1h-1zM675 489h1v1h-1zM685 489h1v1h-1zM560 490h1v1h-1zM569 490h1v1h-1zM579 490h1v1h-1zM588 490h1v1h-1zM598 490h1v1h-1zM607 490h1v1h-1zM617 490h1v1h-1zM627 490h1v1h-1zM636 490h1v1h-1zM646 490h1v1h-1zM655 490h1v1h-1zM665 490h1v1h-1zM674 490h1v1h-1zM684 490h1v1h-1zM559 491h1v1h-1zM568 491h1v1h-1zM578 491h1v1h-1zM587 491h1v1h-1zM597 491h1v1h-1zM606 491h1v1h-1zM616 491h1v1h-1zM626 491h1v1h-1zM635 491h1v1h-1zM645 491h1v1h-1zM654 491h1v1h-1zM664 491h1v1h-1zM673 491h1v1h-1zM683 491h1v1h-1zM558 492h1v1h-1zM567 492h1v1h-1zM577 492h1v1h-1zM586 492h1v1h-1zM596 492h1v1h-1zM605 492h1v1h-1zM615 492h1v1h-1zM625 492h1v1h-1zM634 492h1v1h-1zM644 492h1v1h-1zM653 492h1v1h-1zM663 492h1v1h-1zM672 492h1v1h-1zM682 492h1v1h-1zM557 493h1v1h-1zM566 493h1v1h-1zM576 493h1v1h-1zM585 493h1v1h-1zM595 493h1v1h-1zM604 493h1v1h-1zM614 493h1v1h-1zM624 493h1v1h-1zM633 493h1v1h-1zM643 493h1v1h-1zM652 493h1v1h-1zM662 493h1v1h-1zM671 493h1v1h-1zM681 493h1v1h-1zM690 493h1v1h-1zM556 494h1v1h-1zM565 494h1v1h-1zM575 494h1v1h-1zM584 494h1v1h-1zM594 494h1v1h-1zM603 494h1v1h-1zM613 494h1v1h-1zM623 494h1v1h-1zM632 494h1v1h-1zM642 494h1v1h-1zM651 494h1v1h-1zM661 494h1v1h-1zM670 494h1v1h-1zM680 494h1v1h-1zM689 494h1v1h-1zM564 495h1v1h-1zM574 495h1v1h-1zM583 495h1v1h-1zM593 495h1v1h-1zM602 495h1v1h-1zM612 495h1v1h-1zM622 495h1v1h-1zM631 495h1v1h-1zM641 495h1v1h-1zM650 495h1v1h-1zM660 495h1v1h-1zM669 495h1v1h-1zM679 495h1v1h-1zM688 495h1v1h-1zM563 496h1v1h-1zM573 496h1v1h-1zM582 496h1v1h-1zM592 496h1v1h-1zM601 496h1v1h-1zM611 496h1v1h-1zM621 496h1v1h-1zM630 496h1v1h-1zM640 496h1v1h-1zM649 496h1v1h-1zM659 496h1v1h-1zM668 496h1v1h-1zM678 496h1v1h-1zM687 496h1v1h-1zM562 497h1v1h-1zM572 497h1v1h-1zM581 497h1v1h-1zM591 497h1v1h-1zM600 497h1v1h-1zM610 497h1v1h-1zM620 497h1v1h-1zM629 497h1v1h-1zM639 497h1v1h-1zM648 497h1v1h-1zM658 497h1v1h-1zM667 497h1v1h-1zM677 497h1v1h-1zM686 497h1v1h-1zM561 498h1v1h-1zM571 498h1v1h-1zM580 498h1v1h-1zM590 498h1v1h-1zM599 498h1v1h-1zM609 498h1v1h-1zM619 498h1v1h-1zM628 498h1v1h-1zM638 498h1v1h-1zM647 498h1v1h-1zM657 498h1v1h-1zM666 498h1v1h-1zM676 498h1v1h-1zM685 498h1v1h-1zM560 499h1v1h-1zM570 499h1v1h-1zM579 499h1v1h-1zM589 499h1v1h-1zM598 499h1v1h-1zM608 499h1v1h-1zM618 499h1v1h-1zM627 499h1v1h-1zM637 499h1v1h-1zM646 499h1v1h-1zM656 499h1v1h-1zM665 499h1v1h-1zM675 499h1v1h-1zM684 499h1v1h-1zM559 500h1v1h-1zM569 500h1v1h-1zM578 500h1v1h-1zM588 500h1v1h-1zM597 500h1v1h-1zM607 500h1v1h-1zM617 500h1v1h-1zM626 500h1v1h-1zM636 500h1v1h-1zM645 500h1v1h-1zM655 500h1v1h-1zM664 500h1v1h-1zM674 500h1v1h-1zM683 500h1v1h-1zM558 501h1v1h-1zM568 501h1v1h-1zM577 501h1v1h-1zM587 501h1v1h-1zM596 501h1v1h-1zM606 501h1v1h-1zM616 501h1v1h-1zM625 501h1v1h-1zM635 501h1v1h-1zM644 501h1v1h-1zM654 501h1v1h-1zM663 501h1v1h-1zM673 501h1v1h-1zM682 501h1v1h-1zM557 502h1v1h-1zM567 502h1v1h-1zM576 502h1v1h-1zM586 502h1v1h-1zM595 502h1v1h-1zM605 502h1v1h-1zM615 502h1v1h-1zM624 502h1v1h-1zM634 502h1v1h-1zM643 502h1v1h-1zM653 502h1v1h-1zM662 502h1v1h-1zM672 502h1v1h-1zM681 502h1v1h-1zM556 503h1v1h-1zM566 503h1v1h-1zM575 503h1v1h-1zM585 503h1v1h-1zM594 503h1v1h-1zM604 503h1v1h-1zM614 503h1v1h-1zM623 503h1v1h-1zM633 503h1v1h-1zM642 503h1v1h-1zM652 503h1v1h-1zM661 503h1v1h-1zM671 503h1v1h-1zM680 503h1v1h-1zM690 503h1v1h-1zM565 504h1v1h-1zM574 504h1v1h-1zM584 504h1v1h-1zM593 504h1v1h-1zM603 504h1v1h-1zM613 504h1v1h-1zM622 504h1v1h-1zM632 504h1v1h-1zM641 504h1v1h-1zM651 504h1v1h-1zM660 504h1v1h-1zM670 504h1v1h-1zM679 504h1v1h-1zM689 504h1v1h-1zM564 505h1v1h-1zM573 505h1v1h-1zM583 505h1v1h-1zM592 505h1v1h-1zM602 505h1v1h-1zM612 505h1v1h-1zM621 505h1v1h-1zM631 505h1v1h-1zM640 505h1v1h-1zM650 505h1v1h-1zM659 505h1v1h-1zM669 505h1v1h-1zM678 505h1v1h-1zM688 505h1v1h-1zM563 506h1v1h-1zM572 506h1v1h-1zM582 506h1v1h-1zM591 506h1v1h-1zM601 506h1v1h-1zM611 506h1v1h-1zM620 506h1v1h-1zM630 506h1v1h-1zM639 506h1v1h-1zM649 506h1v1h-1zM658 506h1v1h-1zM668 506h1v1h-1zM677 506h1v1h-1zM687 506h1v1h-1zM562 507h1v1h-1zM571 507h1v1h-1zM581 507h1v1h-1zM590 507h1v1h-1zM600 507h1v1h-1zM610 507h1v1h-1zM619 507h1v1h-1zM629 507h1v1h-1zM638 507h1v1h-1zM648 507h1v1h-1zM657 507h1v1h-1zM667 507h1v1h-1zM676 507h1v1h-1zM686 507h1v1h-1zM561 508h1v1h-1zM570 508h1v1h-1zM580 508h1v1h-1zM589 508h1v1h-1zM599 508h1v1h-1zM609 508h1v1h-1zM618 508h1v1h-1zM628 508h1v1h-1zM637 508h1v1h-1zM647 508h1v1h-1zM656 508h1v1h-1zM666 508h1v1h-1zM675 508h1v1h-1zM685 508h1v1h-1zM560 509h1v1h-1zM569 509h1v1h-1zM579 509h1v1h-1zM588 509h1v1h-1zM598 509h1v1h-1zM608 509h1v1h-1zM617 509h1v1h-1zM627 509h1v1h-1zM636 509h1v1h-1zM646 509h1v1h-1zM655 509h1v1h-1zM665 509h1v1h-1zM674 509h1v1h-1zM684 509h1v1h-1zM559 510h1v1h-1zM568 510h1v1h-1zM578 510h1v1h-1zM587 510h1v1h-1zM597 510h1v1h-1zM607 510h1v1h-1zM616 510h1v1h-1zM626 510h1v1h-1zM635 510h1v1h-1zM645 510h1v1h-1zM654 510h1v1h-1zM664 510h1v1h-1zM673 510h1v1h-1zM683 510h1v1h-1zM558 511h1v1h-1zM567 511h1v1h-1zM577 511h1v1h-1zM586 511h1v1h-1zM596 511h1v1h-1zM606 511h1v1h-1zM615 511h1v1h-1zM625 511h1v1h-1zM634 511h1v1h-1zM644 511h1v1h-1zM653 511h1v1h-1zM663 511h1v1h-1zM672 511h1v1h-1zM682 511h1v1h-1zM557 512h1v1h-1zM566 512h1v1h-1zM576 512h1v1h-1zM585 512h1v1h-1zM595 512h1v1h-1zM605 512h1v1h-1zM614 512h1v1h-1zM624 512h1v1h-1zM633 512h1v1h-1zM643 512h1v1h-1zM652 512h1v1h-1zM662 512h1v1h-1zM671 512h1v1h-1zM681 512h1v1h-1zM556 513h1v1h-1zM565 513h1v1h-1zM575 513h1v1h-1zM584 513h1v1h-1zM594 513h1v1h-1zM604 513h1v1h-1zM613 513h1v1h-1zM623 513h1v1h-1zM632 513h1v1h-1zM642 513h1v1h-1zM651 513h1v1h-1zM661 513h1v1h-1zM670 513h1v1h-1zM680 513h1v1h-1zM690 513h1v1h-1zM564 514h1v1h-1zM574 514h1v1h-1zM583 514h1v1h-1zM593 514h1v1h-1zM603 514h1v1h-1zM612 514h1v1h-1zM622 514h1v1h-1zM631 514h1v1h-1zM641 514h1v1h-1zM650 514h1v1h-1zM660 514h1v1h-1zM669 514h1v1h-1zM679 514h1v1h-1zM689 514h1v1h-1zM563 515h1v1h-1zM573 515h1v1h-1zM582 515h1v1h-1zM592 515h1v1h-1zM602 515h1v1h-1zM611 515h1v1h-1zM621 515h1v1h-1zM630 515h1v1h-1zM640 515h1v1h-1zM649 515h1v1h-1zM659 515h1v1h-1zM668 515h1v1h-1zM678 515h1v1h-1zM688 515h1v1h-1zM562 516h1v1h-1zM572 516h1v1h-1zM581 516h1v1h-1zM591 516h1v1h-1zM601 516h1v1h-1zM610 516h1v1h-1zM620 516h1v1h-1zM629 516h1v1h-1zM639 516h1v1h-1zM648 516h1v1h-1zM658 516h1v1h-1zM667 516h1v1h-1zM677 516h1v1h-1zM687 516h1v1h-1zM561 517h1v1h-1zM571 517h1v1h-1zM580 517h1v1h-1zM590 517h1v1h-1zM600 517h1v1h-1zM609 517h1v1h-1zM619 517h1v1h-1zM628 517h1v1h-1zM638 517h1v1h-1zM647 517h1v1h-1zM657 517h1v1h-1zM666 517h1v1h-1zM676 517h1v1h-1zM686 517h1v1h-1zM560 518h1v1h-1zM570 518h1v1h-1zM579 518h1v1h-1zM589 518h1v1h-1zM599 518h1v1h-1zM608 518h1v1h-1zM618 518h1v1h-1zM627 518h1v1h-1zM637 518h1v1h-1zM646 518h1v1h-1zM656 518h1v1h-1zM665 518h1v1h-1zM675 518h1v1h-1zM685 518h1v1h-1zM559 519h1v1h-1zM569 519h1v1h-1zM578 519h1v1h-1zM588 519h1v1h-1zM598 519h1v1h-1zM607 519h1v1h-1zM617 519h1v1h-1zM626 519h1v1h-1zM636 519h1v1h-1zM645 519h1v1h-1zM655 519h1v1h-1zM664 519h1v1h-1zM674 519h1v1h-1zM684 519h1v1h-1zM558 520h1v1h-1zM568 520h1v1h-1zM577 520h1v1h-1zM587 520h1v1h-1zM597 520h1v1h-1zM606 520h1v1h-1zM616 520h1v1h-1zM625 520h1v1h-1zM635 520h1v1h-1zM644 520h1v1h-1zM654 520h1v1h-1zM663 520h1v1h-1zM673 520h1v1h-1zM683 520h1v1h-1zM557 521h1v1h-1zM567 521h1v1h-1zM576 521h1v1h-1zM586 521h1v1h-1zM596 521h1v1h-1zM605 521h1v1h-1zM615 521h1v1h-1zM624 521h1v1h-1zM634 521h1v1h-1zM643 521h1v1h-1zM653 521h1v1h-1zM662 521h1v1h-1zM672 521h1v1h-1zM682 521h1v1h-1z"/>
<path fill="#ff8000" d="M342 527h1v1h-1zM351 527h1v1h-1zM341 528h1v1h-1zM350 528h1v1h-1zM340 529h1v1h-1zM349 529h1v1h-1zM339 530h1v1h-1zM348 530h1v1h-1zM347 531h1v1h-1zM346 532h1v1h-1zM356 532h1v1h-1zM345 533h1v1h-1zM355 533h1v1h-1zM344 534h1v1h-1zM354 534h1v1h-1zM343 535h1v1h-1zM353 535h1v1h-1zM342 536h1v1h-1zM352 536h1v1h-1zM341 537h1v1h-1zM351 537h1v1h-1zM340 538h1v1h-1zM350 538h1v1h-1zM339 539h1v1h-1zM349 539h1v1h-1zM348 540h1v1h-1zM347 541h1v1h-1zM356 541h1v1h-1z"/>
<path fill="#ff8000" d="M534 527h1v1h-1zM543 527h1v1h-1zM533 528h1v1h-1zM542 528h1v1h-1zM532 529h1v1h-1zM541 529h1v1h-1zM540 530h1v1h-1zM539 531h1v1h-1zM538 532h1v1h-1zM537 533h1v1h-1zM536 534h1v1h-1zM535 535h1v1h-1zM534 536h1v1h-1zM544 536h1v1h-1zM533 537h1v1h-1zM543 537h1v1h-1zM532 538h1v1h-1zM542 538h1v1h-1zM541 539h1v1h-1zM540 540h1v1h-1zM539 541h1v1h-1z"/>
<path fill="#0080ff" d="M82 355h1v1h-1zM91 355h1v1h-1zM101 355h1v1h-1zM81 356h1v1h-1zM90 356h1v1h-1zM100 356h1v1h-1zM80 357h1v1h-1zM89 357h1v1h-1zM99 357h1v1h-1zM88 358h1v1h-1zM98 358h1v1h-1zM87 359h1v1h-1zM97 359h1v1h-1zM86 360h1v1h-1zM96 360h1v1h-1zM85 361h1v1h-1zM95 361h1v1h-1zM84 362h1v1h-1zM94 362h1v1h-1zM83 363h1v1h-1zM93 363h1v1h-1zM82 364h1v1h-1zM92 364h1v1h-1zM101 364h1v1h-1zM81 365h1v1h-1zM91 365h1v1h-1zM100 365h1v1h-1zM80 366h1v1h-1zM90 366h1v1h-1zM99 366h1v1h-1zM89 367h1v1h-1zM98 367h1v1h-1zM88 368h1v1h-1zM97 368h1v1h-1zM87 369h1v1h-1zM96 369h1v1h-1zM86 370h1v1h-1zM95 370h1v1h-1zM85 371h1v1h-1zM94 371h1v1h-1zM84 372h1v1h-1zM93 372h1v1h-1zM83 373h1v1h-1zM92 373h1v1h-1zM82 374h1v1h-1zM91 374h1v1h-1zM101 374h1v1h-1zM81 375h1v1h-1zM90 375h1v1h-1zM100 375h1v1h-1zM80 376h1v1h-1zM89 376h1v1h-1zM99 376h1v1h-1z"/>
<path fill="#0080ff" d="M139 355h1v1h-1zM148 355h1v1h-1zM158 355h1v1h-1zM138 356h1v1h-1zM147 356h1v1h-1zM157 356h1v1h-1zM137 357h1v1h-1zM146 357h1v1h-1zM156 357h1v1h-1zM136 358h1v1h-1zM145 358h1v1h-1zM155 358h1v1h-1zM144 359h1v1h-1zM154 359h1v1h-1zM143 360h1v1h-1zM153 360h1v1h-1zM162 360h1v1h-1zM142 361h1v1h-1zM152 361h1v1h-1zM161 361h1v1h-1zM141 362h1v1h-1zM151 362h1v1h-1zM160 362h1v1h-1zM140 363h1v1h-1zM150 363h1v1h-1zM159 363h1v1h-1zM139 364h1v1h-1zM149 364h1v1h-1zM158 364h1v1h-1zM138 365h1v1h-1zM148 365h1v1h-1zM157 365h1v1h-1zM137 366h1v1h-1zM147 366h1v1h-1zM156 366h1v1h-1zM136 367h1v1h-1zM146 367h1v1h-1zM155 367h1v1h-1zM145 368h1v1h-1zM154 368h1v1h-1zM144 369h1v1h-1zM153 369h1v1h-1zM143 370h1v1h-1zM152 370h1v1h-1zM162 370h1v1h-1zM142 371h1v1h-1zM151 371h1v1h-1zM161 371h1v1h-1zM141 372h1v1h-1zM150 372h1v1h-1zM160 372h1v1h-1zM140 373h1v1h-1zM149 373h1v1h-1zM159 373h1v1h-1zM139 374h1v1h-1zM148 374h1v1h-1zM158 374h1v1h-1zM138 375h1v1h-1zM147 375h1v1h-1zM157 375h1v1h-1zM137 376h1v1h-1zM146 376h1v1h-1zM156 376h1v1h-1z"/>
<path fill="#0080ff" d="M734 355h1v1h-1zM743 355h1v1h-1zM733 356h1v1h-1zM742 356h1v1h-1zM752 356h1v1h-1zM732 357h1v1h-1zM741 357h1v1h-1zM751 357h1v1h-1zM731 358h1v1h-1zM740 358h1v1h-1zM750 358h1v1h-1zM730 359h1v1h-1zM739 359h1v1h-1zM749 359h1v1h-1zM738 360h1v1h-1zM748 360h1v1h-1zM737 361h1v1h-1zM747 361h1v1h-1zM736 362h1v1h-1zM746 362h1v1h-1zM735 363h1v1h-1zM745 363h1v1h-1zM734 364h1v1h-1zM744 364h1v1h-1zM733 365h1v1h-1zM743 365h1v1h-1zM752 365h1v1h-1zM732 366h1v1h-1zM742 366h1v1h-1zM751 366h1v1h-1zM731 367h1v1h-1zM741 367h1v1h-1zM750 367h1v1h-1zM730 368h1v1h-1zM740 368h1v1h-1zM749 368h1v1h-1zM739 369h1v1h-1zM748 369h1v1h-1zM738 370h1v1h-1zM747 370h1v1h-1zM737 371h1v1h-1zM746 371h1v1h-1zM736 372h1v1h-1zM745 372h1v1h-1zM735 373h1v1h-1zM744 373h1v1h-1zM734 374h1v1h-1zM743 374h1v1h-1zM733 375h1v1h-1zM742 375h1v1h-1zM752 375h1v1h-1zM732 376h1v1h-1zM741 376h1v1h-1zM751 376h1v1h-1z"/>
<path fill="#ffffff" d="M106 339h1v1h-1zM110 339h1v1h-1zM116 339h1v1h-1zM120 339h1v1h-1zM125 339h1v1h-1zM129 339h1v1h-1zM105 340h1v1h-1zM111 340h1v1h-1zM115 340h1v1h-1zM121 340h1v1h-1zM124 340h1v1h-1zM130 340h1v1h-1zM134 340h1v1h-1zM103 341h2v1h-2zM112 341h1v1h-1zM114 341h1v1h-1zM122 341h2v1h-2zM131 341h1v1h-1zM133 341h1v1h-1zM103 342h2v1h-2zM113 342h1v1h-1zM122 342h2v1h-2zM132 342h1v1h-1zM105 343h1v1h-1zM112 343h1v1h-1zM114 343h1v1h-1zM121 343h1v1h-1zM124 343h1v1h-1zM131 343h1v1h-1zM133 343h1v1h-1zM106 344h1v1h-1zM111 344h1v1h-1zM115 344h1v1h-1zM120 344h1v1h-1zM125 344h1v1h-1zM130 344h1v1h-1zM134 344h1v1h-1zM107 345h1v1h-1zM110 345h1v1h-1zM116 345h1v1h-1zM119 345h1v1h-1zM126 345h1v1h-1zM129 345h1v1h-1zM108 346h2v1h-2zM117 346h2v1h-2zM127 346h2v1h-2zM108 347h2v1h-2zM117 347h2v1h-2zM127 347h2v1h-2zM107 348h1v1h-1zM110 348h1v1h-1zM116 348h1v1h-1zM119 348h1v1h-1zM126 348h1v1h-1zM129 348h1v1h-1zM106 349h1v1h-1zM111 349h1v1h-1zM115 349h1v1h-1zM120 349h1v1h-1zM125 349h1v1h-1zM130 349h1v1h-1zM134 349h1v1h-1zM105 350h1v1h-1zM112 350h1v1h-1zM114 350h1v1h-1zM121 350h1v1h-1zM124 350h1v1h-1zM131 350h1v1h-1zM133 350h1v1h-1zM103 351h2v1h-2zM113 351h1v1h-1zM122 351h2v1h-2zM132 351h1v1h-1zM103 352h2v1h-2zM112 352h1v1h-1zM114 352h1v1h-1zM122 352h2v1h-2zM131 352h1v1h-1zM133 352h1v1h-1zM105 353h1v1h-1zM111 353h1v1h-1zM115 353h1v1h-1zM121 353h1v1h-1zM124 353h1v1h-1zM130 353h1v1h-1zM134 353h1v1h-1zM106 354h1v1h-1zM110 354h1v1h-1zM116 354h1v1h-1zM120 354h1v1h-1zM125 354h1v1h-1zM129 354h1v1h-1zM107 355h1v1h-1zM109 355h1v1h-1zM117 355h1v1h-1zM119 355h1v1h-1zM126 355h1v1h-1zM128 355h1v1h-1z"/>
<path fill="#ffffff" d="M759 339h1v1h-1zM763 339h1v1h-1zM768 339h1v1h-1zM772 339h1v1h-1zM778 339h1v1h-1zM754 340h1v1h-1zM758 340h1v1h-1zM764 340h1v1h-1zM767 340h1v1h-1zM773 340h1v1h-1zM777 340h1v1h-1zM755 341h1v1h-1zM757 341h1v1h-1zM765 341h2v1h-2zM774 341h1v1h-1zM776 341h1v1h-1zM756 342h1v1h-1zM765 342h2v1h-2zM775 342h1v1h-1zM755 343h1v1h-1zM757 343h1v1h-1zM764 343h1v1h-1zM767 343h1v1h-1zM774 343h1v1h-1zM776 343h1v1h-1zM754 344h1v1h-1zM758 344h1v1h-1zM763 344h1v1h-1zM768 344h1v1h-1zM773 344h1v1h-1zM777 344h1v1h-1zM759 345h1v1h-1zM762 345h1v1h-1zM769 345h1v1h-1zM772 345h1v1h-1zM778 345h1v1h-1zM760 346h2v1h-2zM770 346h2v1h-2zM779 346h2v1h-2zM760 347h2v1h-2zM770 347h2v1h-2zM779 347h2v1h-2zM759 348h1v1h-1zM762 348h1v1h-1zM769 348h1v1h-1zM772 348h1v1h-1zM778 348h1v1h-1zM754 349h1v1h-1zM758 349h1v1h-1zM763 349h1v1h-1zM768 349h1v1h-1zM773 349h1v1h-1zM777 349h1v1h-1zM755 350h1v1h-1zM757 350h1v1h-1zM764 350h1v1h-1zM767 350h1v1h-1zM774 350h1v1h-1zM776 350h1v1h-1zM756 351h1v1h-1zM765 351h2v1h-2zM775 351h1v1h-1zM755 352h1v1h-1zM757 352h1v1h-1zM765 352h2v1h-2zM774 352h1v1h-1zM776 352h1v1h-1zM754 353h1v1h-1zM758 353h1v1h-1zM764 353h1v1h-1zM767 353h1v1h-1zM773 353h1v1h-1zM777 353h1v1h-1zM759 354h1v1h-1zM763 354h1v1h-1zM768 354h1v1h-1zM772 354h1v1h-1zM778 354h1v1h-1zM760 355h1v1h-1zM762 355h1v1h-1zM769 355h1v1h-1zM771 355h1v1h-1zM779 355h1v1h-1z"/>
<rect x="79" y="339" width="1" height="272" fill="#0080ff"/>
<rect x="163" y="339" width="1" height="272" fill="#0080ff"/>
<rect x="729" y="339" width="1" height="272" fill="#0080ff"/>
<rect x="102" y="339" width="1" height="272" fill="#ffffff"/>
<rect x="135" y="339" width="1" height="272" fill="#ffffff"/>
<rect x="753" y="339" width="1" height="272" fill="#ffffff"/>
<rect x="196" y="339" width="1" height="272" fill="#ff0000"/>
<rect x="333" y="339" width="1" height="272" fill="#ff0000"/>
<rect x="555" y="339" width="1" height="272" fill="#ff0000"/>
<rect x="691" y="339" width="1" height="272" fill="#ff0000"/>
<rect x="338" y="339" width="1" height="272" fill="#ff8000"/>
<rect x="357" y="339" width="1" height="272" fill="#ff8000"/>
<rect x="531" y="339" width="1" height="272" fill="#ff8000"/>
<rect x="545" y="339" width="1" height="272" fill="#ff8000"/>
<text x="226.04 236.86 246.63 258.41 265.75 276.02 280.32 286.88 295.88" y="405" font-size="16.46" fill="#ff0000" stroke="#ff0000" stroke-width="0.2" font-family="'DejaVu Sans', 'Liberation Sans', sans-serif" font-weight="200">Bad Pitch</text>
<text x="226.04 236.86 246.63 258.41 265.75 276.02 280.32 286.88 295.88" y="536.5" font-size="16.46" fill="#ff0000" stroke="#ff0000" stroke-width="0.2" font-family="'DejaVu Sans', 'Liberation Sans', sans-serif" font-weight="200">Bad Pitch</text>
<text x="583.03 593.99 603.89 615.81 623.25 633.66 638.01 644.66 653.77" y="405" font-size="16.66" fill="#ff0000" stroke="#ff0000" stroke-width="0.2" font-family="'DejaVu Sans', 'Liberation Sans', sans-serif" font-weight="200">Bad Pitch</text>
<text x="583.03 593.99 603.89 615.81 623.25 633.66 638.01 644.66 653.77" y="536.5" font-size="16.66" fill="#ff0000" stroke="#ff0000" stroke-width="0.2" font-family="'DejaVu Sans', 'Liberation Sans', sans-serif" font-weight="200">Bad Pitch</text>
<text x="326.46 336.96 346.63 359.80" y="557" font-size="16.50" fill="#ff8000" stroke="#ff8000" stroke-width="0.2" font-family="'DejaVu Sans', 'Liberation Sans', sans-serif" font-weight="200">PSMC</text>
<text x="516.45 527.20 537.10 550.58" y="557" font-size="16.86" fill="#ff8000" stroke="#ff8000" stroke-width="0.2" font-family="'DejaVu Sans', 'Liberation Sans', sans-serif" font-weight="200">PSMC</text>
<text x="72.48 82.57 86.69 90.76 100.43" y="353" font-size="16.20" fill="#0080ff" stroke="#0080ff" stroke-width="0.2" font-family="'DejaVu Sans', 'Liberation Sans', sans-serif" font-weight="200">Pline</text>
<text x="72.48 82.57 86.69 90.76 100.43" y="391.7" font-size="16.20" fill="#0080ff" stroke="#0080ff" stroke-width="0.2" font-family="'DejaVu Sans', 'Liberation Sans', sans-serif" font-weight="200">Pline</text>
<text x="131.48 141.57 145.69 149.76 159.43" y="353" font-size="16.20" fill="#0080ff" stroke="#0080ff" stroke-width="0.2" font-family="'DejaVu Sans', 'Liberation Sans', sans-serif" font-weight="200">Pline</text>
<text x="131.48 141.57 145.69 149.76 159.43" y="391.7" font-size="16.20" fill="#0080ff" stroke="#0080ff" stroke-width="0.2" font-family="'DejaVu Sans', 'Liberation Sans', sans-serif" font-weight="200">Pline</text>
<text x="723.48 733.57 737.69 741.76 751.43" y="353" font-size="16.20" fill="#0080ff" stroke="#0080ff" stroke-width="0.2" font-family="'DejaVu Sans', 'Liberation Sans', sans-serif" font-weight="200">Pline</text>
<text x="723.48 733.57 737.69 741.76 751.43" y="391.7" font-size="16.20" fill="#0080ff" stroke="#0080ff" stroke-width="0.2" font-family="'DejaVu Sans', 'Liberation Sans', sans-serif" font-weight="200">Pline</text>
<text x="101.48 111.79 118.40 128.01" y="336.8" font-size="16.21" fill="#ffffff" stroke="#ffffff" stroke-width="0.2" font-family="'DejaVu Sans', 'Liberation Sans', sans-serif" font-weight="200">Prop</text>
<text x="101.48 111.79 118.40 128.01" y="370.7" font-size="16.21" fill="#ffffff" stroke="#ffffff" stroke-width="0.2" font-family="'DejaVu Sans', 'Liberation Sans', sans-serif" font-weight="200">Prop</text>
<text x="749.46 760.07 766.88 776.77" y="336.8" font-size="16.65" fill="#ffffff" stroke="#ffffff" stroke-width="0.2" font-family="'DejaVu Sans', 'Liberation Sans', sans-serif" font-weight="200">Prop</text>
<text x="749.46 760.07 766.88 776.77" y="370.7" font-size="16.65" fill="#ffffff" stroke="#ffffff" stroke-width="0.2" font-family="'DejaVu Sans', 'Liberation Sans', sans-serif" font-weight="200">Prop</text>
<g fill="#00ff80">
<rect x="69" y="460" width="1" height="31"/>
<rect x="69" y="460" width="3" height="1"/>
<rect x="69" y="490" width="3" height="1"/>
<rect x="70" y="475" width="1" height="1"/>
<rect x="74" y="459" width="1" height="34"/>
<rect x="72" y="459" width="5" height="1"/>
<rect x="72" y="492" width="5" height="1"/>
<rect x="75" y="476" width="1" height="1"/>
<rect x="79" y="457" width="1" height="40"/>
<rect x="77" y="457" width="5" height="1"/>
<rect x="77" y="496" width="5" height="1"/>
<rect x="78" y="477" width="1" height="1"/>
<rect x="83" y="455" width="1" height="45"/>
<rect x="81" y="455" width="5" height="1"/>
<rect x="81" y="499" width="5" height="1"/>
<rect x="84" y="477" width="1" height="1"/>
<rect x="88" y="452" width="1" height="53"/>
<rect x="86" y="452" width="5" height="1"/>
<rect x="86" y="504" width="5" height="1"/>
<rect x="89" y="478" width="1" height="1"/>
<rect x="93" y="449" width="1" height="62"/>
<rect x="91" y="449" width="5" height="1"/>
<rect x="91" y="510" width="5" height="1"/>
<rect x="92" y="480" width="1" height="1"/>
<rect x="98" y="451" width="1" height="62"/>
<rect x="96" y="451" width="5" height="1"/>
<rect x="96" y="512" width="5" height="1"/>
<rect x="97" y="482" width="1" height="1"/>
<rect x="102" y="454" width="1" height="62"/>
<rect x="100" y="454" width="5" height="1"/>
<rect x="100" y="515" width="5" height="1"/>
<rect x="103" y="485" width="1" height="1"/>
<rect x="107" y="460" width="1" height="62"/>
<rect x="105" y="460" width="5" height="1"/>
<rect x="105" y="521" width="5" height="1"/>
<rect x="108" y="490" width="1" height="1"/>
<rect x="112" y="476" width="1" height="62"/>
<rect x="110" y="476" width="5" height="1"/>
<rect x="110" y="537" width="5" height="1"/>
<rect x="111" y="507" width="1" height="1"/>
<rect x="116" y="555" width="1" height="57"/>
<rect x="114" y="555" width="5" height="1"/>
<rect x="117" y="585" width="1" height="1"/>
<rect x="121" y="126" width="1" height="62"/>
<rect x="119" y="126" width="5" height="1"/>
<rect x="119" y="187" width="5" height="1"/>
<rect x="122" y="156" width="1" height="1"/>
<rect x="126" y="148" width="1" height="61"/>
<rect x="124" y="148" width="5" height="1"/>
<rect x="124" y="208" width="5" height="1"/>
<rect x="125" y="178" width="1" height="1"/>
<rect x="131" y="155" width="1" height="62"/>
<rect x="129" y="155" width="5" height="1"/>
<rect x="129" y="216" width="5" height="1"/>
<rect x="130" y="185" width="1" height="1"/>
<rect x="135" y="159" width="1" height="62"/>
<rect x="133" y="159" width="5" height="1"/>
<rect x="133" y="220" width="5" height="1"/>
<rect x="136" y="189" width="1" height="1"/>
<rect x="140" y="161" width="1" height="62"/>
<rect x="138" y="161" width="5" height="1"/>
<rect x="138" y="222" width="5" height="1"/>
<rect x="139" y="191" width="1" height="1"/>
<rect x="145" y="167" width="1" height="53"/>
<rect x="143" y="167" width="5" height="1"/>
<rect x="143" y="219" width="5" height="1"/>
<rect x="144" y="193" width="1" height="1"/>
<rect x="149" y="172" width="1" height="45"/>
<rect x="147" y="172" width="5" height="1"/>
<rect x="147" y="216" width="5" height="1"/>
<rect x="150" y="194" width="1" height="1"/>
<rect x="154" y="176" width="1" height="39"/>
<rect x="152" y="176" width="5" height="1"/>
<rect x="152" y="214" width="5" height="1"/>
<rect x="155" y="195" width="1" height="1"/>
<rect x="159" y="179" width="1" height="34"/>
<rect x="157" y="179" width="5" height="1"/>
<rect x="157" y="212" width="5" height="1"/>
<rect x="158" y="195" width="1" height="1"/>
<rect x="164" y="179" width="1" height="35"/>
<rect x="162" y="179" width="5" height="1"/>
<rect x="162" y="213" width="5" height="1"/>
<rect x="163" y="196" width="1" height="1"/>
<rect x="168" y="181" width="1" height="31"/>
<rect x="166" y="181" width="5" height="1"/>
<rect x="166" y="211" width="5" height="1"/>
<rect x="169" y="196" width="1" height="1"/>
<rect x="173" y="184" width="1" height="27"/>
<rect x="171" y="184" width="5" height="1"/>
<rect x="171" y="210" width="5" height="1"/>
<rect x="172" y="197" width="1" height="1"/>
<rect x="178" y="184" width="1" height="27"/>
<rect x="176" y="184" width="5" height="1"/>
<rect x="176" y="210" width="5" height="1"/>
<rect x="177" y="197" width="1" height="1"/>
<rect x="182" y="186" width="1" height="24"/>
<rect x="180" y="186" width="5" height="1"/>
<rect x="180" y="209" width="5" height="1"/>
<rect x="183" y="197" width="1" height="1"/>
<rect x="187" y="186" width="1" height="24"/>
<rect x="185" y="186" width="5" height="1"/>
<rect x="185" y="209" width="5" height="1"/>
<rect x="188" y="197" width="1" height="1"/>
<rect x="192" y="187" width="1" height="23"/>
<rect x="190" y="187" width="5" height="1"/>
<rect x="190" y="209" width="5" height="1"/>
<rect x="191" y="198" width="1" height="1"/>
<rect x="197" y="186" width="1" height="25"/>
<rect x="195" y="186" width="5" height="1"/>
<rect x="195" y="210" width="5" height="1"/>
<rect x="196" y="198" width="1" height="1"/>
<rect x="201" y="185" width="1" height="27"/>
<rect x="199" y="185" width="5" height="1"/>
<rect x="199" y="211" width="5" height="1"/>
<rect x="202" y="198" width="1" height="1"/>
<rect x="206" y="185" width="1" height="27"/>
<rect x="204" y="185" width="5" height="1"/>
<rect x="204" y="211" width="5" height="1"/>
<rect x="205" y="198" width="1" height="1"/>
<rect x="211" y="184" width="1" height="30"/>
<rect x="209" y="184" width="5" height="1"/>
<rect x="209" y="213" width="5" height="1"/>
<rect x="210" y="198" width="1" height="1"/>
<rect x="215" y="184" width="1" height="31"/>
<rect x="213" y="184" width="5" height="1"/>
<rect x="213" y="214" width="5" height="1"/>
<rect x="216" y="199" width="1" height="1"/>
<rect x="220" y="184" width="1" height="31"/>
<rect x="218" y="184" width="5" height="1"/>
<rect x="218" y="214" width="5" height="1"/>
<rect x="221" y="199" width="1" height="1"/>
<rect x="225" y="184" width="1" height="31"/>
<rect x="223" y="184" width="5" height="1"/>
<rect x="223" y="214" width="5" height="1"/>
<rect x="224" y="199" width="1" height="1"/>
<rect x="230" y="184" width="1" height="31"/>
<rect x="228" y="184" width="5" height="1"/>
<rect x="228" y="214" width="5" height="1"/>
<rect x="229" y="199" width="1" height="1"/>
<rect x="234" y="184" width="1" height="31"/>
<rect x="232" y="184" width="5" height="1"/>
<rect x="232" y="214" width="5" height="1"/>
<rect x="235" y="199" width="1" height="1"/>
<rect x="239" y="184" width="1" height="31"/>
<rect x="237" y="184" width="5" height="1"/>
<rect x="237" y="214" width="5" height="1"/>
<rect x="238" y="199" width="1" height="1"/>
<rect x="244" y="184" width="1" height="31"/>
<rect x="242" y="184" width="5" height="1"/>
<rect x="242" y="214" width="5" height="1"/>
<rect x="243" y="199" width="1" height="1"/>
<rect x="248" y="184" width="1" height="31"/>
<rect x="246" y="184" width="5" height="1"/>
<rect x="246" y="214" width="5" height="1"/>
<rect x="249" y="199" width="1" height="1"/>
<rect x="253" y="184" width="1" height="31"/>
<rect x="251" y="184" width="5" height="1"/>
<rect x="251" y="214" width="5" height="1"/>
<rect x="254" y="199" width="1" height="1"/>
<rect x="258" y="184" width="1" height="31"/>
<rect x="256" y="184" width="5" height="1"/>
<rect x="256" y="214" width="5" height="1"/>
<rect x="257" y="199" width="1" height="1"/>
<rect x="263" y="184" width="1" height="31"/>
<rect x="261" y="184" width="5" height="1"/>
<rect x="261" y="214" width="5" height="1"/>
<rect x="262" y="199" width="1" height="1"/>
<rect x="267" y="185" width="1" height="31"/>
<rect x="265" y="185" width="5" height="1"/>
<rect x="265" y="215" width="5" height="1"/>
<rect x="268" y="200" width="1" height="1"/>
<rect x="272" y="185" width="1" height="31"/>
<rect x="270" y="185" width="5" height="1"/>
<rect x="270" y="215" width="5" height="1"/>
<rect x="271" y="200" width="1" height="1"/>
<rect x="277" y="185" width="1" height="31"/>
<rect x="275" y="185" width="5" height="1"/>
<rect x="275" y="215" width="5" height="1"/>
<rect x="276" y="200" width="1" height="1"/>
<rect x="281" y="185" width="1" height="31"/>
<rect x="279" y="185" width="5" height="1"/>
<rect x="279" y="215" width="5" height="1"/>
<rect x="282" y="200" width="1" height="1"/>
<rect x="286" y="182" width="1" height="37"/>
<rect x="284" y="182" width="5" height="1"/>
<rect x="284" y="218" width="5" height="1"/>
<rect x="287" y="200" width="1" height="1"/>
<rect x="291" y="182" width="1" height="37"/>
<rect x="289" y="182" width="5" height="1"/>
<rect x="289" y="218" width="5" height="1"/>
<rect x="290" y="200" width="1" height="1"/>
<rect x="296" y="181" width="1" height="40"/>
<rect x="294" y="181" width="5" height="1"/>
<rect x="294" y="220" width="5" height="1"/>
<rect x="295" y="200" width="1" height="1"/>
<rect x="300" y="181" width="1" height="40"/>
<rect x="298" y="181" width="5" height="1"/>
<rect x="298" y="220" width="5" height="1"/>
<rect x="301" y="200" width="1" height="1"/>
<rect x="305" y="180" width="1" height="42"/>
<rect x="303" y="180" width="5" height="1"/>
<rect x="303" y="221" width="5" height="1"/>
<rect x="304" y="200" width="1" height="1"/>
<rect x="310" y="180" width="1" height="42"/>
<rect x="308" y="180" width="5" height="1"/>
<rect x="308" y="221" width="5" height="1"/>
<rect x="309" y="200" width="1" height="1"/>
<rect x="314" y="181" width="1" height="40"/>
<rect x="312" y="181" width="5" height="1"/>
<rect x="312" y="220" width="5" height="1"/>
<rect x="315" y="200" width="1" height="1"/>
<rect x="319" y="181" width="1" height="40"/>
<rect x="317" y="181" width="5" height="1"/>
<rect x="317" y="220" width="5" height="1"/>
<rect x="320" y="200" width="1" height="1"/>
<rect x="324" y="183" width="1" height="37"/>
<rect x="322" y="183" width="5" height="1"/>
<rect x="322" y="219" width="5" height="1"/>
<rect x="323" y="201" width="1" height="1"/>
<rect x="329" y="183" width="1" height="37"/>
<rect x="327" y="183" width="5" height="1"/>
<rect x="327" y="219" width="5" height="1"/>
<rect x="328" y="201" width="1" height="1"/>
<rect x="333" y="186" width="1" height="31"/>
<rect x="331" y="186" width="5" height="1"/>
<rect x="331" y="216" width="5" height="1"/>
<rect x="334" y="201" width="1" height="1"/>
<rect x="338" y="186" width="1" height="31"/>
<rect x="336" y="186" width="5" height="1"/>
<rect x="336" y="216" width="5" height="1"/>
<rect x="337" y="201" width="1" height="1"/>
<rect x="343" y="191" width="1" height="22"/>
<rect x="341" y="191" width="5" height="1"/>
<rect x="341" y="212" width="5" height="1"/>
<rect x="342" y="201" width="1" height="1"/>
<rect x="347" y="191" width="1" height="22"/>
<rect x="345" y="191" width="5" height="1"/>
<rect x="345" y="212" width="5" height="1"/>
<rect x="348" y="201" width="1" height="1"/>
<rect x="352" y="195" width="1" height="14"/>
<rect x="350" y="195" width="5" height="1"/>
<rect x="350" y="208" width="5" height="1"/>
<rect x="353" y="201" width="1" height="1"/>
<rect x="531" y="461" width="1" height="18"/>
<rect x="529" y="461" width="5" height="1"/>
<rect x="529" y="478" width="5" height="1"/>
<rect x="532" y="469" width="1" height="1"/>
<rect x="536" y="459" width="1" height="23"/>
<rect x="534" y="459" width="5" height="1"/>
<rect x="534" y="481" width="5" height="1"/>
<rect x="535" y="470" width="1" height="1"/>
<rect x="541" y="459" width="1" height="23"/>
<rect x="539" y="459" width="5" height="1"/>
<rect x="539" y="481" width="5" height="1"/>
<rect x="540" y="470" width="1" height="1"/>
<rect x="545" y="455" width="1" height="31"/>
<rect x="543" y="455" width="5" height="1"/>
<rect x="543" y="485" width="5" height="1"/>
<rect x="546" y="470" width="1" height="1"/>
<rect x="550" y="455" width="1" height="31"/>
<rect x="548" y="455" width="5" height="1"/>
<rect x="548" y="485" width="5" height="1"/>
<rect x="551" y="470" width="1" height="1"/>
<rect x="555" y="453" width="1" height="36"/>
<rect x="553" y="453" width="5" height="1"/>
<rect x="553" y="488" width="5" height="1"/>
<rect x="554" y="470" width="1" height="1"/>
<rect x="559" y="453" width="1" height="36"/>
<rect x="557" y="453" width="5" height="1"/>
<rect x="557" y="488" width="5" height="1"/>
<rect x="560" y="470" width="1" height="1"/>
<rect x="564" y="451" width="1" height="40"/>
<rect x="562" y="451" width="5" height="1"/>
<rect x="562" y="490" width="5" height="1"/>
<rect x="565" y="470" width="1" height="1"/>
<rect x="569" y="451" width="1" height="40"/>
<rect x="567" y="451" width="5" height="1"/>
<rect x="567" y="490" width="5" height="1"/>
<rect x="568" y="470" width="1" height="1"/>
<rect x="574" y="450" width="1" height="42"/>
<rect x="572" y="450" width="5" height="1"/>
<rect x="572" y="491" width="5" height="1"/>
<rect x="573" y="471" width="1" height="1"/>
<rect x="578" y="450" width="1" height="42"/>
<rect x="576" y="450" width="5" height="1"/>
<rect x="576" y="491" width="5" height="1"/>
<rect x="579" y="471" width="1" height="1"/>
<rect x="583" y="452" width="1" height="39"/>
<rect x="581" y="452" width="5" height="1"/>
<rect x="581" y="490" width="5" height="1"/>
<rect x="584" y="471" width="1" height="1"/>
<rect x="588" y="452" width="1" height="40"/>
<rect x="586" y="452" width="5" height="1"/>
<rect x="586" y="491" width="5" height="1"/>
<rect x="587" y="471" width="1" height="1"/>
<rect x="592" y="453" width="1" height="37"/>
<rect x="590" y="453" width="5" height="1"/>
<rect x="590" y="489" width="5" height="1"/>
<rect x="593" y="471" width="1" height="1"/>
<rect x="597" y="454" width="1" height="36"/>
<rect x="595" y="454" width="5" height="1"/>
<rect x="595" y="489" width="5" height="1"/>
<rect x="598" y="472" width="1" height="1"/>
<rect x="602" y="456" width="1" height="32"/>
<rect x="600" y="456" width="5" height="1"/>
<rect x="600" y="487" width="5" height="1"/>
<rect x="601" y="471" width="1" height="1"/>
<rect x="607" y="456" width="1" height="32"/>
<rect x="605" y="456" width="5" height="1"/>
<rect x="605" y="487" width="5" height="1"/>
<rect x="606" y="471" width="1" height="1"/>
<rect x="611" y="456" width="1" height="32"/>
<rect x="609" y="456" width="5" height="1"/>
<rect x="609" y="487" width="5" height="1"/>
<rect x="612" y="471" width="1" height="1"/>
<rect x="616" y="456" width="1" height="32"/>
<rect x="614" y="456" width="5" height="1"/>
<rect x="614" y="487" width="5" height="1"/>
<rect x="617" y="471" width="1" height="1"/>
<rect x="621" y="456" width="1" height="32"/>
<rect x="619" y="456" width="5" height="1"/>
<rect x="619" y="487" width="5" height="1"/>
<rect x="620" y="471" width="1" height="1"/>
<rect x="625" y="456" width="1" height="32"/>
<rect x="623" y="456" width="5" height="1"/>
<rect x="623" y="487" width="5" height="1"/>
<rect x="626" y="471" width="1" height="1"/>
<rect x="630" y="456" width="1" height="32"/>
<rect x="628" y="456" width="5" height="1"/>
<rect x="628" y="487" width="5" height="1"/>
<rect x="631" y="471" width="1" height="1"/>
<rect x="635" y="456" width="1" height="32"/>
<rect x="633" y="456" width="5" height="1"/>
<rect x="633" y="487" width="5" height="1"/>
<rect x="634" y="471" width="1" height="1"/>
<rect x="640" y="456" width="1" height="32"/>
<rect x="638" y="456" width="5" height="1"/>
<rect x="638" y="487" width="5" height="1"/>
<rect x="639" y="471" width="1" height="1"/>
<rect x="644" y="456" width="1" height="32"/>
<rect x="642" y="456" width="5" height="1"/>
<rect x="642" y="487" width="5" height="1"/>
<rect x="645" y="471" width="1" height="1"/>
<rect x="649" y="456" width="1" height="32"/>
<rect x="647" y="456" width="5" height="1"/>
<rect x="647" y="487" width="5" height="1"/>
<rect x="650" y="471" width="1" height="1"/>
<rect x="654" y="456" width="1" height="32"/>
<rect x="652" y="456" width="5" height="1"/>
<rect x="652" y="487" width="5" height="1"/>
<rect x="653" y="471" width="1" height="1"/>
<rect x="658" y="456" width="1" height="32"/>
<rect x="656" y="456" width="5" height="1"/>
<rect x="656" y="487" width="5" height="1"/>
<rect x="659" y="471" width="1" height="1"/>
<rect x="663" y="456" width="1" height="32"/>
<rect x="661" y="456" width="5" height="1"/>
<rect x="661" y="487" width="5" height="1"/>
<rect x="664" y="471" width="1" height="1"/>
<rect x="668" y="458" width="1" height="30"/>
<rect x="666" y="458" width="5" height="1"/>
<rect x="666" y="487" width="5" height="1"/>
<rect x="667" y="472" width="1" height="1"/>
<rect x="673" y="458" width="1" height="30"/>
<rect x="671" y="458" width="5" height="1"/>
<rect x="671" y="487" width="5" height="1"/>
<rect x="672" y="472" width="1" height="1"/>
<rect x="677" y="460" width="1" height="27"/>
<rect x="675" y="460" width="5" height="1"/>
<rect x="675" y="486" width="5" height="1"/>
<rect x="678" y="473" width="1" height="1"/>
<rect x="682" y="460" width="1" height="27"/>
<rect x="680" y="460" width="5" height="1"/>
<rect x="680" y="486" width="5" height="1"/>
<rect x="683" y="473" width="1" height="1"/>
<rect x="687" y="462" width="1" height="24"/>
<rect x="685" y="462" width="5" height="1"/>
<rect x="685" y="485" width="5" height="1"/>
<rect x="686" y="473" width="1" height="1"/>
<rect x="691" y="463" width="1" height="23"/>
<rect x="689" y="463" width="5" height="1"/>
<rect x="689" y="485" width="5" height="1"/>
<rect x="692" y="474" width="1" height="1"/>
<rect x="696" y="463" width="1" height="23"/>
<rect x="694" y="463" width="5" height="1"/>
<rect x="694" y="485" width="5" height="1"/>
<rect x="697" y="474" width="1" height="1"/>
<rect x="701" y="462" width="1" height="25"/>
<rect x="699" y="462" width="5" height="1"/>
<rect x="699" y="486" width="5" height="1"/>
<rect x="700" y="474" width="1" height="1"/>
<rect x="706" y="462" width="1" height="25"/>
<rect x="704" y="462" width="5" height="1"/>
<rect x="704" y="486" width="5" height="1"/>
<rect x="705" y="474" width="1" height="1"/>
<rect x="710" y="461" width="1" height="28"/>
<rect x="708" y="461" width="5" height="1"/>
<rect x="708" y="488" width="5" height="1"/>
<rect x="711" y="474" width="1" height="1"/>
<rect x="715" y="462" width="1" height="27"/>
<rect x="713" y="462" width="5" height="1"/>
<rect x="713" y="488" width="5" height="1"/>
<rect x="716" y="475" width="1" height="1"/>
<rect x="720" y="460" width="1" height="31"/>
<rect x="718" y="460" width="5" height="1"/>
<rect x="718" y="490" width="5" height="1"/>
<rect x="719" y="475" width="1" height="1"/>
<rect x="724" y="459" width="1" height="34"/>
<rect x="722" y="459" width="5" height="1"/>
<rect x="722" y="492" width="5" height="1"/>
<rect x="725" y="475" width="1" height="1"/>
<rect x="729" y="457" width="1" height="40"/>
<rect x="727" y="457" width="5" height="1"/>
<rect x="727" y="496" width="5" height="1"/>
<rect x="730" y="476" width="1" height="1"/>
<rect x="734" y="455" width="1" height="45"/>
<rect x="732" y="455" width="5" height="1"/>
<rect x="732" y="499" width="5" height="1"/>
<rect x="733" y="477" width="1" height="1"/>
<rect x="739" y="452" width="1" height="53"/>
<rect x="737" y="452" width="5" height="1"/>
<rect x="737" y="504" width="5" height="1"/>
<rect x="738" y="478" width="1" height="1"/>
<rect x="743" y="453" width="1" height="53"/>
<rect x="741" y="453" width="5" height="1"/>
<rect x="741" y="505" width="5" height="1"/>
<rect x="744" y="479" width="1" height="1"/>
<rect x="748" y="451" width="1" height="61"/>
<rect x="746" y="451" width="5" height="1"/>
<rect x="746" y="511" width="5" height="1"/>
<rect x="749" y="481" width="1" height="1"/>
<rect x="753" y="454" width="1" height="61"/>
<rect x="751" y="454" width="5" height="1"/>
<rect x="751" y="514" width="5" height="1"/>
<rect x="752" y="484" width="1" height="1"/>
<rect x="757" y="459" width="1" height="62"/>
<rect x="755" y="459" width="5" height="1"/>
<rect x="755" y="520" width="5" height="1"/>
<rect x="758" y="489" width="1" height="1"/>
<rect x="762" y="473" width="1" height="61"/>
<rect x="760" y="473" width="5" height="1"/>
<rect x="760" y="533" width="5" height="1"/>
<rect x="763" y="503" width="1" height="1"/>
<rect x="767" y="536" width="1" height="61"/>
<rect x="765" y="536" width="5" height="1"/>
<rect x="765" y="596" width="5" height="1"/>
<rect x="766" y="566" width="1" height="1"/>
<rect x="772" y="121" width="1" height="61"/>
<rect x="770" y="121" width="5" height="1"/>
<rect x="770" y="181" width="5" height="1"/>
<rect x="771" y="151" width="1" height="1"/>
<rect x="776" y="147" width="1" height="61"/>
<rect x="774" y="147" width="5" height="1"/>
<rect x="774" y="207" width="5" height="1"/>
<rect x="777" y="177" width="1" height="1"/>
<rect x="355" y="202" width="5" height="1"/>
<rect x="357" y="201" width="1" height="1"/>
<rect x="779" y="155" width="2" height="1"/>
<rect x="782" y="185" width="1" height="1"/>
<rect x="362" y="612" width="1" height="1"/>
<rect x="366" y="612" width="1" height="1"/>
<rect x="371" y="612" width="1" height="1"/>
<rect x="376" y="612" width="1" height="1"/>
<rect x="380" y="612" width="1" height="1"/>
<rect x="385" y="612" width="1" height="1"/>
<rect x="390" y="612" width="1" height="1"/>
<rect x="395" y="612" width="1" height="1"/>
<rect x="399" y="612" width="1" height="1"/>
<rect x="404" y="612" width="1" height="1"/>
<rect x="409" y="612" width="1" height="1"/>
<rect x="413" y="612" width="1" height="1"/>
<rect x="418" y="612" width="1" height="1"/>
<rect x="423" y="612" width="1" height="1"/>
<rect x="428" y="612" width="1" height="1"/>
<rect x="432" y="612" width="1" height="1"/>
<rect x="437" y="612" width="1" height="1"/>
<rect x="442" y="612" width="1" height="1"/>
<rect x="446" y="612" width="1" height="1"/>
<rect x="451" y="612" width="1" height="1"/>
<rect x="456" y="612" width="1" height="1"/>
<rect x="461" y="612" width="1" height="1"/>
<rect x="465" y="612" width="1" height="1"/>
<rect x="470" y="612" width="1" height="1"/>
<rect x="475" y="612" width="1" height="1"/>
<rect x="479" y="612" width="1" height="1"/>
<rect x="484" y="612" width="1" height="1"/>
<rect x="489" y="612" width="1" height="1"/>
<rect x="493" y="612" width="1" height="1"/>
<rect x="498" y="612" width="1" height="1"/>
<rect x="503" y="612" width="1" height="1"/>
<rect x="508" y="612" width="1" height="1"/>
<rect x="512" y="612" width="1" height="1"/>
<rect x="517" y="612" width="1" height="1"/>
<rect x="522" y="612" width="1" height="1"/>
<rect x="526" y="612" width="1" height="1"/>
</g>
<path fill="#ff0000" d="M114 342h4v1h-4zM112 343h2v1h-2zM118 343h2v1h-2zM110 344h2v1h-2zM120 344h2v1h-2zM108 345h2v1h-2zM122 345h2v1h-2zM107 346h1v1h-1zM124 346h2v1h-2zM106 347h1v2h-1zM126 347h2v1h-2zM128 348h1v2h-1zM105 349h1v1h-1zM104 350h1v1h-1zM129 350h1v1h-1zM103 351h1v1h-1zM130 351h1v1h-1zM102 352h1v1h-1zM131 352h1v1h-1zM101 353h1v1h-1zM132 353h1v1h-1zM100 354h1v1h-1zM133 354h2v1h-2zM99 355h1v1h-1zM135 355h1v1h-1zM97 356h2v1h-2zM136 356h1v1h-1zM96 357h1v1h-1zM137 357h2v1h-2zM95 358h1v1h-1zM139 358h1v1h-1zM94 359h1v1h-1zM140 359h1v1h-1zM92 360h2v1h-2zM141 360h2v1h-2zM91 361h1v1h-1zM143 361h1v1h-1zM90 362h1v1h-1zM144 362h1v1h-1zM89 363h1v1h-1zM145 363h1v1h-1zM87 364h2v1h-2zM146 364h2v1h-2zM86 365h1v1h-1zM148 365h1v1h-1zM85 366h1v1h-1zM149 366h1v1h-1zM84 367h1v1h-1zM150 367h1v1h-1zM83 368h1v1h-1zM151 368h1v1h-1zM82 369h1v1h-1zM152 369h1v1h-1zM81 370h1v1h-1zM153 370h1v1h-1zM80 371h1v1h-1zM154 371h2v1h-2zM79 372h1v1h-1zM156 372h1v1h-1zM78 373h1v1h-1zM157 373h1v1h-1zM76 374h2v1h-2zM158 374h1v1h-1zM75 375h1v1h-1zM159 375h1v1h-1zM74 376h1v1h-1zM160 376h1v1h-1zM73 377h1v1h-1zM161 377h2v1h-2zM71 378h2v1h-2zM163 378h1v1h-1zM70 379h1v1h-1zM164 379h1v1h-1zM69 380h1v1h-1zM165 380h1v1h-1zM68 381h1v1h-1zM166 381h1v1h-1zM167 382h1v1h-1zM168 383h2v1h-2zM170 384h1v1h-1zM171 385h1v1h-1zM172 386h1v1h-1zM173 387h1v1h-1zM174 388h1v1h-1zM175 389h1v1h-1zM176 390h2v1h-2zM178 391h1v1h-1zM179 392h1v1h-1zM180 393h1v1h-1zM181 394h1v1h-1zM182 395h1v1h-1zM183 396h1v1h-1zM184 397h1v1h-1zM185 398h1v1h-1zM186 399h1v1h-1zM187 400h2v1h-2zM189 401h1v1h-1zM190 402h1v1h-1zM191 403h1v1h-1zM192 404h1v1h-1zM193 405h1v1h-1zM194 406h1v1h-1zM195 407h1v1h-1zM196 408h1v1h-1zM197 409h1v1h-1zM198 410h2v1h-2zM200 411h1v1h-1zM201 412h1v1h-1zM202 413h1v1h-1zM203 414h1v1h-1zM204 415h1v1h-1zM205 416h1v1h-1zM206 417h2v1h-2zM208 418h1v1h-1zM209 419h1v1h-1zM210 420h1v1h-1zM211 421h1v1h-1zM212 422h2v1h-2zM214 423h1v1h-1zM215 424h1v1h-1zM216 425h1v1h-1zM217 426h1v1h-1zM218 427h2v1h-2zM220 428h1v1h-1zM221 429h1v1h-1zM222 430h1v1h-1zM223 431h1v1h-1zM224 432h1v1h-1zM225 433h2v1h-2zM227 434h1v1h-1zM228 435h1v1h-1zM229 436h1v1h-1zM230 437h1v1h-1zM231 438h2v1h-2zM233 439h1v1h-1zM234 440h1v1h-1zM235 441h1v1h-1zM236 442h1v1h-1zM237 443h2v1h-2zM239 444h1v1h-1zM240 445h1v1h-1zM241 446h1v1h-1zM242 447h1v1h-1zM243 448h1v1h-1zM244 449h2v1h-2zM246 450h1v1h-1zM247 451h1v1h-1zM248 452h1v1h-1zM249 453h1v1h-1zM250 454h2v1h-2zM252 455h1v1h-1zM253 456h1v1h-1zM254 457h1v1h-1zM255 458h1v1h-1zM256 459h2v1h-2zM258 460h1v1h-1zM259 461h1v1h-1zM260 462h1v1h-1zM261 463h1v1h-1zM262 464h1v1h-1zM263 465h2v1h-2zM265 466h1v1h-1zM266 467h1v1h-1zM267 468h1v1h-1zM268 469h1v1h-1zM269 470h2v1h-2zM271 471h1v1h-1zM272 472h1v1h-1zM273 473h1v1h-1zM274 474h1v1h-1zM275 475h2v1h-2zM277 476h1v1h-1zM278 477h1v1h-1zM279 478h1v1h-1zM280 479h1v1h-1zM281 480h1v1h-1zM282 481h2v1h-2zM284 482h1v1h-1zM285 483h1v1h-1zM286 484h1v1h-1zM287 485h1v1h-1zM288 486h2v1h-2zM290 487h1v1h-1zM291 488h1v1h-1zM292 489h1v1h-1zM293 490h1v1h-1zM294 491h2v1h-2zM296 492h1v1h-1zM297 493h1v1h-1zM298 494h1v1h-1zM299 495h1v1h-1zM300 496h1v1h-1zM301 497h2v1h-2zM303 498h1v1h-1zM304 499h1v1h-1zM305 500h1v1h-1zM306 501h1v1h-1zM307 502h2v1h-2zM309 503h1v1h-1zM310 504h1v1h-1zM311 505h1v1h-1zM312 506h1v1h-1zM313 507h2v1h-2zM315 508h1v1h-1zM316 509h1v1h-1zM317 510h1v1h-1zM318 511h1v1h-1zM319 512h1v1h-1zM320 513h2v1h-2zM322 514h1v1h-1zM323 515h1v1h-1zM324 516h1v1h-1zM325 517h1v1h-1zM326 518h2v1h-2zM328 519h1v1h-1zM329 520h1v1h-1zM330 521h1v1h-1zM331 522h1v1h-1zM332 523h2v1h-2zM334 524h1v1h-1zM335 525h1v1h-1zM336 526h1v1h-1zM337 527h1v1h-1zM338 528h2v1h-2zM340 529h1v1h-1zM341 530h1v1h-1zM342 531h1v1h-1zM343 532h2v1h-2zM345 533h1v1h-1zM346 534h1v1h-1zM347 535h1v1h-1zM348 536h2v1h-2zM350 537h1v1h-1zM351 538h1v1h-1zM352 539h1v1h-1zM353 540h2v1h-2zM355 541h1v1h-1zM356 542h2v1h-2zM358 543h1v27h-1zM359 570h1v16h-1zM360 586h1v13h-1zM361 599h1v12h-1z"/>
<path fill="#ff0000" d="M766 342h4v1h-4zM764 343h2v1h-2zM770 343h2v1h-2zM763 344h1v1h-1zM772 344h2v1h-2zM761 345h2v1h-2zM774 345h1v1h-1zM760 346h1v1h-1zM775 346h1v1h-1zM759 347h1v1h-1zM776 347h1v1h-1zM758 348h1v1h-1zM777 348h1v1h-1zM757 349h1v1h-1zM778 349h1v1h-1zM756 350h1v1h-1zM779 350h2v1h-2zM755 351h1v1h-1zM781 351h1v1h-1zM754 352h1v1h-1zM752 353h2v1h-2zM751 354h1v1h-1zM750 355h1v1h-1zM749 356h1v1h-1zM747 357h2v1h-2zM746 358h1v1h-1zM745 359h1v1h-1zM744 360h1v1h-1zM743 361h1v1h-1zM742 362h1v1h-1zM740 363h2v1h-2zM739 364h1v1h-1zM738 365h1v1h-1zM737 366h1v1h-1zM736 367h1v1h-1zM735 368h1v1h-1zM734 369h1v1h-1zM733 370h1v1h-1zM731 371h2v1h-2zM730 372h1v1h-1zM729 373h1v1h-1zM728 374h1v1h-1zM727 375h1v1h-1zM726 376h1v1h-1zM725 377h1v1h-1zM724 378h1v1h-1zM722 379h2v1h-2zM721 380h1v1h-1zM720 381h1v1h-1zM719 382h1v1h-1zM718 383h1v1h-1zM716 384h2v1h-2zM715 385h1v1h-1zM713 386h2v1h-2zM712 387h1v1h-1zM711 388h1v1h-1zM710 389h1v1h-1zM709 390h1v1h-1zM708 391h1v1h-1zM707 392h1v1h-1zM706 393h1v1h-1zM705 394h1v1h-1zM704 395h1v1h-1zM702 396h2v1h-2zM701 397h1v1h-1zM699 398h2v1h-2zM698 399h1v1h-1zM696 400h2v1h-2zM695 401h1v1h-1zM694 402h1v1h-1zM692 403h2v1h-2zM691 404h1v1h-1zM690 405h1v1h-1zM689 406h1v1h-1zM688 407h1v2h-1zM687 409h1v1h-1zM686 410h1v1h-1zM685 411h1v1h-1zM683 412h2v1h-2zM682 413h1v1h-1zM680 414h2v1h-2zM679 415h1v1h-1zM678 416h1v1h-1zM677 417h1v1h-1zM676 418h1v1h-1zM675 419h1v1h-1zM674 420h1v1h-1zM673 421h1v1h-1zM672 422h1v1h-1zM671 423h1v1h-1zM669 424h2v1h-2zM668 425h1v1h-1zM666 426h2v1h-2zM665 427h1v1h-1zM664 428h1v1h-1zM662 429h2v1h-2zM661 430h1v1h-1zM660 431h1v1h-1zM659 432h1v1h-1zM657 433h2v1h-2zM656 434h1v1h-1zM655 435h1v1h-1zM654 436h1v1h-1zM653 437h1v1h-1zM652 438h1v1h-1zM650 439h2v1h-2zM649 440h1v1h-1zM648 441h1v1h-1zM647 442h1v1h-1zM646 443h1v1h-1zM645 444h1v1h-1zM644 445h1v1h-1zM643 446h1v1h-1zM642 447h1v1h-1zM641 448h1v1h-1zM640 449h1v1h-1zM639 450h1v1h-1zM638 451h1v1h-1zM636 452h2v1h-2zM635 453h1v1h-1zM633 454h2v1h-2zM632 455h1v1h-1zM630 456h2v1h-2zM629 457h1v1h-1zM628 458h1v1h-1zM627 459h1v1h-1zM626 460h1v1h-1zM624 461h2v1h-2zM623 462h1v1h-1zM622 463h1v1h-1zM621 464h1v1h-1zM620 465h1v1h-1zM619 466h1v1h-1zM617 467h2v1h-2zM616 468h1v1h-1zM615 469h1v1h-1zM614 470h1v1h-1zM613 471h1v1h-1zM611 472h2v1h-2zM610 473h1v1h-1zM609 474h1v1h-1zM607 475h2v1h-2zM606 476h1v1h-1zM604 477h2v1h-2zM603 478h1v1h-1zM602 479h1v1h-1zM600 480h2v1h-2zM599 481h1v1h-1zM598 482h1v1h-1zM597 483h1v1h-1zM596 484h1v1h-1zM595 485h1v1h-1zM594 486h1v1h-1zM593 487h1v1h-1zM592 488h1v1h-1zM591 489h1v1h-1zM589 490h2v1h-2zM588 491h1v1h-1zM586 492h2v1h-2zM585 493h1v1h-1zM584 494h1v1h-1zM582 495h2v1h-2zM581 496h1v1h-1zM580 497h1v1h-1zM579 498h1v1h-1zM577 499h2v1h-2zM576 500h1v1h-1zM575 501h1v1h-1zM574 502h1v1h-1zM573 503h1v1h-1zM571 504h2v1h-2zM570 505h1v1h-1zM569 506h1v1h-1zM568 507h1v1h-1zM567 508h1v1h-1zM566 509h1v1h-1zM564 510h2v1h-2zM563 511h1v1h-1zM562 512h1v1h-1zM561 513h1v1h-1zM560 514h1v1h-1zM558 515h2v1h-2zM557 516h1v1h-1zM556 517h1v1h-1zM555 518h1v1h-1zM553 519h2v1h-2zM552 520h1v1h-1zM551 521h1v1h-1zM549 522h2v1h-2zM548 523h1v1h-1zM547 524h1v1h-1zM546 525h1v1h-1zM545 526h1v1h-1zM544 527h1v1h-1zM543 528h1v1h-1zM542 529h1v1h-1zM541 530h1v1h-1zM540 531h1v1h-1zM539 532h1v1h-1zM537 533h2v1h-2zM536 534h1v1h-1zM535 535h1v1h-1zM533 536h2v1h-2zM532 537h1v1h-1zM531 538h1v8h-1zM530 546h1v14h-1zM529 560h1v15h-1zM528 575h1v15h-1zM527 590h1v15h-1zM526 605h1v6h-1z"/>
<rect x="68" y="68" width="714" height="1" fill="#ffffff"/>
<rect x="68" y="611" width="714" height="1" fill="#ffffff"/>
<rect x="68" y="68" width="1" height="544" fill="#0080ff"/>
<rect x="781" y="68" width="1" height="544" fill="#ffff00"/>
<rect x="69" y="557" width="8" height="1" fill="#0080ff"/>
<rect x="69" y="502" width="8" height="1" fill="#0080ff"/>
<rect x="69" y="448" width="8" height="1" fill="#0080ff"/>
<rect x="69" y="394" width="8" height="1" fill="#0080ff"/>
<rect x="69" y="339" width="8" height="1" fill="#0080ff"/>
<rect x="69" y="285" width="8" height="1" fill="#0080ff"/>
<rect x="69" y="231" width="8" height="1" fill="#0080ff"/>
<rect x="69" y="176" width="8" height="1" fill="#0080ff"/>
<rect x="69" y="122" width="8" height="1" fill="#0080ff"/>
<rect x="773" y="566" width="8" height="1" fill="#ffff00"/>
<rect x="773" y="521" width="8" height="1" fill="#ffff00"/>
<rect x="773" y="475" width="8" height="1" fill="#ffff00"/>
<rect x="773" y="430" width="8" height="1" fill="#ffff00"/>
<rect x="773" y="385" width="8" height="1" fill="#ffff00"/>
<rect x="773" y="339" width="8" height="1" fill="#ffff00"/>
<rect x="773" y="294" width="8" height="1" fill="#ffff00"/>
<rect x="773" y="249" width="8" height="1" fill="#ffff00"/>
<rect x="773" y="204" width="8" height="1" fill="#ffff00"/>
<rect x="773" y="158" width="8" height="1" fill="#ffff00"/>
<rect x="773" y="113" width="8" height="1" fill="#ffff00"/>
<rect x="96" y="607" width="1" height="4" fill="#ffffff"/>
<rect x="123" y="607" width="1" height="4" fill="#ffffff"/>
<rect x="149" y="607" width="1" height="4" fill="#ffffff"/>
<rect x="176" y="607" width="1" height="4" fill="#ffffff"/>
<rect x="203" y="607" width="1" height="4" fill="#ffffff"/>
<rect x="230" y="598" width="1" height="13" fill="#ffffff"/>
<rect x="256" y="607" width="1" height="4" fill="#ffffff"/>
<rect x="283" y="607" width="1" height="4" fill="#ffffff"/>
<rect x="310" y="607" width="1" height="4" fill="#ffffff"/>
<rect x="337" y="607" width="1" height="4" fill="#ffffff"/>
<rect x="363" y="607" width="1" height="4" fill="#ffffff"/>
<rect x="390" y="598" width="1" height="13" fill="#ffffff"/>
<rect x="417" y="607" width="1" height="4" fill="#ffffff"/>
<rect x="444" y="607" width="1" height="4" fill="#ffffff"/>
<rect x="470" y="607" width="1" height="4" fill="#ffffff"/>
<rect x="497" y="607" width="1" height="4" fill="#ffffff"/>
<rect x="524" y="607" width="1" height="4" fill="#ffffff"/>
<rect x="551" y="598" width="1" height="13" fill="#ffffff"/>
<rect x="577" y="607" width="1" height="4" fill="#ffffff"/>
<rect x="604" y="607" width="1" height="4" fill="#ffffff"/>
<rect x="631" y="607" width="1" height="4" fill="#ffffff"/>
<rect x="658" y="607" width="1" height="4" fill="#ffffff"/>
<rect x="684" y="607" width="1" height="4" fill="#ffffff"/>
<rect x="711" y="598" width="1" height="13" fill="#ffffff"/>
<rect x="738" y="607" width="1" height="4" fill="#ffffff"/>
<rect x="765" y="607" width="1" height="4" fill="#ffffff"/>
<rect x="69" y="598" width="1" height="13" fill="#ffffff"/>
<text x="45.66" y="617" font-size="16.35" fill="#0080ff" stroke="#0080ff" stroke-width="0.2" font-family="'DejaVu Sans', 'Liberation Sans', sans-serif" font-weight="200">0</text>
<text x="35.26 45.66" y="563" font-size="16.35" fill="#0080ff" stroke="#0080ff" stroke-width="0.2" font-family="'DejaVu Sans', 'Liberation Sans', sans-serif" font-weight="200">10</text>
<text x="35.26 45.66" y="508" font-size="16.35" fill="#0080ff" stroke="#0080ff" stroke-width="0.2" font-family="'DejaVu Sans', 'Liberation Sans', sans-serif" font-weight="200">20</text>
<text x="35.26 45.66" y="454" font-size="16.35" fill="#0080ff" stroke="#0080ff" stroke-width="0.2" font-family="'DejaVu Sans', 'Liberation Sans', sans-serif" font-weight="200">30</text>
<text x="35.26 45.66" y="400" font-size="16.35" fill="#0080ff" stroke="#0080ff" stroke-width="0.2" font-family="'DejaVu Sans', 'Liberation Sans', sans-serif" font-weight="200">40</text>
<text x="35.26 45.66" y="345" font-size="16.35" fill="#0080ff" stroke="#0080ff" stroke-width="0.2" font-family="'DejaVu Sans', 'Liberation Sans', sans-serif" font-weight="200">50</text>
<text x="35.26 45.66" y="291" font-size="16.35" fill="#0080ff" stroke="#0080ff" stroke-width="0.2" font-family="'DejaVu Sans', 'Liberation Sans', sans-serif" font-weight="200">60</text>
<text x="35.26 45.66" y="237" font-size="16.35" fill="#0080ff" stroke="#0080ff" stroke-width="0.2" font-family="'DejaVu Sans', 'Liberation Sans', sans-serif" font-weight="200">70</text>
<text x="35.26 45.66" y="182" font-size="16.35" fill="#0080ff" stroke="#0080ff" stroke-width="0.2" font-family="'DejaVu Sans', 'Liberation Sans', sans-serif" font-weight="200">80</text>
<text x="35.26 45.66" y="128" font-size="16.35" fill="#0080ff" stroke="#0080ff" stroke-width="0.2" font-family="'DejaVu Sans', 'Liberation Sans', sans-serif" font-weight="200">90</text>
<text x="24.86 35.26 45.66" y="74" font-size="16.35" fill="#0080ff" stroke="#0080ff" stroke-width="0.2" font-family="'DejaVu Sans', 'Liberation Sans', sans-serif" font-weight="200">100</text>
<text x="784.94 795.34" y="572" font-size="16.35" fill="#ffff00" stroke="#ffff00" stroke-width="0.2" font-family="'DejaVu Sans', 'Liberation Sans', sans-serif" font-weight="200">30</text>
<text x="784.94 795.34" y="527" font-size="16.35" fill="#ffff00" stroke="#ffff00" stroke-width="0.2" font-family="'DejaVu Sans', 'Liberation Sans', sans-serif" font-weight="200">60</text>
<text x="784.94 795.34" y="481" font-size="16.35" fill="#ffff00" stroke="#ffff00" stroke-width="0.2" font-family="'DejaVu Sans', 'Liberation Sans', sans-serif" font-weight="200">90</text>
<text x="784.94 795.34 805.74" y="436" font-size="16.35" fill="#ffff00" stroke="#ffff00" stroke-width="0.2" font-family="'DejaVu Sans', 'Liberation Sans', sans-serif" font-weight="200">120</text>
<text x="784.94 795.34 805.74" y="391" font-size="16.35" fill="#ffff00" stroke="#ffff00" stroke-width="0.2" font-family="'DejaVu Sans', 'Liberation Sans', sans-serif" font-weight="200">150</text>
<text x="784.94 795.34 805.74" y="345" font-size="16.35" fill="#ffff00" stroke="#ffff00" stroke-width="0.2" font-family="'DejaVu Sans', 'Liberation Sans', sans-serif" font-weight="200">180</text>
<text x="784.94 795.34 805.74" y="300" font-size="16.35" fill="#ffff00" stroke="#ffff00" stroke-width="0.2" font-family="'DejaVu Sans', 'Liberation Sans', sans-serif" font-weight="200">210</text>
<text x="784.94 795.34 805.74" y="255" font-size="16.35" fill="#ffff00" stroke="#ffff00" stroke-width="0.2" font-family="'DejaVu Sans', 'Liberation Sans', sans-serif" font-weight="200">240</text>
<text x="784.94 795.34 805.74" y="210" font-size="16.35" fill="#ffff00" stroke="#ffff00" stroke-width="0.2" font-family="'DejaVu Sans', 'Liberation Sans', sans-serif" font-weight="200">270</text>
<text x="784.94 795.34 805.74" y="164" font-size="16.35" fill="#ffff00" stroke="#ffff00" stroke-width="0.2" font-family="'DejaVu Sans', 'Liberation Sans', sans-serif" font-weight="200">300</text>
<text x="784.94 795.34 805.74" y="119" font-size="16.35" fill="#ffff00" stroke="#ffff00" stroke-width="0.2" font-family="'DejaVu Sans', 'Liberation Sans', sans-serif" font-weight="200">330</text>
<text x="9.43 19.92 30.41 40.91" y="638" font-size="16.49" fill="#ffffff" stroke="#ffffff" stroke-width="0.2" font-family="'DejaVu Sans', 'Liberation Sans', sans-serif" font-weight="200">2007</text>
<text x="51.06" y="638.00" textLength="14.32" lengthAdjust="spacingAndGlyphs" font-size="16.49" fill="#ffffff" stroke="#ffffff" stroke-width="0.2" font-family="'DejaVu Sans', 'Liberation Sans', sans-serif" font-weight="200">-</text>
<text x="64.65 76.52 85.87" y="638" font-size="16.49" fill="#ffffff" stroke="#ffffff" stroke-width="0.2" font-family="'DejaVu Sans', 'Liberation Sans', sans-serif" font-weight="200">Nov</text>
<text x="94.61" y="638.00" textLength="14.32" lengthAdjust="spacingAndGlyphs" font-size="16.49" fill="#ffffff" stroke="#ffffff" stroke-width="0.2" font-family="'DejaVu Sans', 'Liberation Sans', sans-serif" font-weight="200">-</text>
<text x="108.59 119.08" y="638" font-size="16.49" fill="#ffffff" stroke="#ffffff" stroke-width="0.2" font-family="'DejaVu Sans', 'Liberation Sans', sans-serif" font-weight="200">19</text>
<text x="169.92 180.51 191.09 201.68" y="638" font-size="16.62" fill="#ffffff" stroke="#ffffff" stroke-width="0.2" font-family="'DejaVu Sans', 'Liberation Sans', sans-serif" font-weight="200">2008</text>
<text x="211.93" y="638.00" textLength="14.44" lengthAdjust="spacingAndGlyphs" font-size="16.62" fill="#ffffff" stroke="#ffffff" stroke-width="0.2" font-family="'DejaVu Sans', 'Liberation Sans', sans-serif" font-weight="200">-</text>
<text x="226.01 235.21 244.84" y="638" font-size="16.62" fill="#ffffff" stroke="#ffffff" stroke-width="0.2" font-family="'DejaVu Sans', 'Liberation Sans', sans-serif" font-weight="200">Feb</text>
<text x="254.81" y="638.00" textLength="14.44" lengthAdjust="spacingAndGlyphs" font-size="16.62" fill="#ffffff" stroke="#ffffff" stroke-width="0.2" font-family="'DejaVu Sans', 'Liberation Sans', sans-serif" font-weight="200">-</text>
<text x="268.92 279.51" y="638" font-size="16.62" fill="#ffffff" stroke="#ffffff" stroke-width="0.2" font-family="'DejaVu Sans', 'Liberation Sans', sans-serif" font-weight="200">17</text>
<text x="330.44 340.84 351.24 361.64" y="638" font-size="16.35" fill="#ffffff" stroke="#ffffff" stroke-width="0.2" font-family="'DejaVu Sans', 'Liberation Sans', sans-serif" font-weight="200">2008</text>
<text x="371.70" y="638.00" textLength="14.20" lengthAdjust="spacingAndGlyphs" font-size="16.35" fill="#ffffff" stroke="#ffffff" stroke-width="0.2" font-family="'DejaVu Sans', 'Liberation Sans', sans-serif" font-weight="200">-</text>
<text x="384.75 397.97 407.24" y="638" font-size="16.35" fill="#ffffff" stroke="#ffffff" stroke-width="0.2" font-family="'DejaVu Sans', 'Liberation Sans', sans-serif" font-weight="200">May</text>
<text x="415.90" y="638.00" textLength="14.20" lengthAdjust="spacingAndGlyphs" font-size="16.35" fill="#ffffff" stroke="#ffffff" stroke-width="0.2" font-family="'DejaVu Sans', 'Liberation Sans', sans-serif" font-weight="200">-</text>
<text x="429.76 440.16" y="638" font-size="16.35" fill="#ffffff" stroke="#ffffff" stroke-width="0.2" font-family="'DejaVu Sans', 'Liberation Sans', sans-serif" font-weight="200">17</text>
<text x="490.92 501.46 512.00 522.54" y="638" font-size="16.55" fill="#ffffff" stroke="#ffffff" stroke-width="0.2" font-family="'DejaVu Sans', 'Liberation Sans', sans-serif" font-weight="200">2008</text>
<text x="532.74" y="638.00" textLength="14.38" lengthAdjust="spacingAndGlyphs" font-size="16.55" fill="#ffffff" stroke="#ffffff" stroke-width="0.2" font-family="'DejaVu Sans', 'Liberation Sans', sans-serif" font-weight="200">-</text>
<text x="545.87 556.03 566.32" y="638" font-size="16.55" fill="#ffffff" stroke="#ffffff" stroke-width="0.2" font-family="'DejaVu Sans', 'Liberation Sans', sans-serif" font-weight="200">Aug</text>
<text x="575.96" y="638.00" textLength="14.38" lengthAdjust="spacingAndGlyphs" font-size="16.55" fill="#ffffff" stroke="#ffffff" stroke-width="0.2" font-family="'DejaVu Sans', 'Liberation Sans', sans-serif" font-weight="200">-</text>
<text x="590.00 600.54" y="638" font-size="16.55" fill="#ffffff" stroke="#ffffff" stroke-width="0.2" font-family="'DejaVu Sans', 'Liberation Sans', sans-serif" font-weight="200">15</text>
<text x="651.43 661.92 672.41 682.91" y="638" font-size="16.49" fill="#ffffff" stroke="#ffffff" stroke-width="0.2" font-family="'DejaVu Sans', 'Liberation Sans', sans-serif" font-weight="200">2008</text>
<text x="693.06" y="638.00" textLength="14.32" lengthAdjust="spacingAndGlyphs" font-size="16.49" fill="#ffffff" stroke="#ffffff" stroke-width="0.2" font-family="'DejaVu Sans', 'Liberation Sans', sans-serif" font-weight="200">-</text>
<text x="706.65 718.52 727.87" y="638" font-size="16.49" fill="#ffffff" stroke="#ffffff" stroke-width="0.2" font-family="'DejaVu Sans', 'Liberation Sans', sans-serif" font-weight="200">Nov</text>
<text x="736.61" y="638.00" textLength="14.32" lengthAdjust="spacingAndGlyphs" font-size="16.49" fill="#ffffff" stroke="#ffffff" stroke-width="0.2" font-family="'DejaVu Sans', 'Liberation Sans', sans-serif" font-weight="200">-</text>
<text x="750.59 761.08" y="638" font-size="16.49" fill="#ffffff" stroke="#ffffff" stroke-width="0.2" font-family="'DejaVu Sans', 'Liberation Sans', sans-serif" font-weight="200">13</text>
<text x="316.38 323.14 338.91 343.08 353.28 363.37 371.78 378.54 384.76 389.36 398.34 407.78 418.15 424.93 435.04 441.51 452.93 459.78 470.32 482.44 489.04 499.24 508.63 517.91 527.16" y="666" font-size="16.55" fill="#ffffff" stroke="#ffffff" stroke-width="0.2" font-family="'DejaVu Sans', 'Liberation Sans', sans-serif" font-weight="200">(minor ticks are 15 days)</text>
<text x="743.38 749.73" y="673" font-size="10.53" fill="#ffffff" stroke="#ffffff" stroke-width="0.2" font-family="'DejaVu Sans', 'Liberation Sans', sans-serif" font-weight="200">27</text>
<text x="755.79" y="673.00" textLength="9.22" lengthAdjust="spacingAndGlyphs" font-size="10.53" fill="#ffffff" stroke="#ffffff" stroke-width="0.2" font-family="'DejaVu Sans', 'Liberation Sans', sans-serif" font-weight="200">-</text>
<text x="763.88 771.49 777.09" y="673" font-size="10.53" fill="#ffffff" stroke="#ffffff" stroke-width="0.2" font-family="'DejaVu Sans', 'Liberation Sans', sans-serif" font-weight="200">Oct</text>
<text x="780.58" y="673.00" textLength="9.22" lengthAdjust="spacingAndGlyphs" font-size="10.53" fill="#ffffff" stroke="#ffffff" stroke-width="0.2" font-family="'DejaVu Sans', 'Liberation Sans', sans-serif" font-weight="200">-</text>
<text x="789.15 795.51 801.87 808.23 815.63 819.67 826.03 832.37 835.57 841.93" y="673" font-size="10.53" fill="#ffffff" stroke="#ffffff" stroke-width="0.2" font-family="'DejaVu Sans', 'Liberation Sans', sans-serif" font-weight="200">2008 18:19</text>
<text x="40.68 51.67 61.77 71.52 81.44 91.64 98.35 109.91 116.49 127.62 137.42 141.60" y="35" font-size="16.43" fill="#ffffff" stroke="#ffffff" stroke-width="0.2" font-family="'DejaVu Sans', 'Liberation Sans', sans-serif" font-weight="200">Chandra Roll</text>
<text x="147.90" y="36.61" textLength="7.64" lengthAdjust="spacingAndGlyphs" font-size="20.61" fill="#ffffff" stroke="#ffffff" stroke-width="0" font-family="'DejaVu Sans', 'Liberation Sans', sans-serif" font-weight="200">/</text>
<text x="158.00 168.25 172.54 179.08 188.06" y="35" font-size="16.43" fill="#ffffff" stroke="#ffffff" stroke-width="0.2" font-family="'DejaVu Sans', 'Liberation Sans', sans-serif" font-weight="200">Pitch</text>
<text x="200.15" y="36.61" textLength="7.64" lengthAdjust="spacingAndGlyphs" font-size="20.61" fill="#ffffff" stroke="#ffffff" stroke-width="0" font-family="'DejaVu Sans', 'Liberation Sans', sans-serif" font-weight="200">/</text>
<text x="208.81 218.94 223.47 232.00 236.13 246.11 250.29 254.47 258.76 264.44 275.05 282.08 288.05 298.06 306.40 312.97 323.25 335.14 341.85 357.09 363.88 374.33 384.79 390.01 400.46 410.91 421.37 433.39 439.93 449.76 459.70 470.49 477.19 492.44 499.23 509.68 520.13 525.36 535.81 546.26 556.71 568.73 575.98 583.00 591.37 600.88 612.63 619.42 629.87 640.32 650.77 661.23 671.68 682.13 688.92 695.00 706.96 717.30 725.83 729.96 741.70 748.50 758.95 769.40 779.85 790.30 801.21" y="35" font-size="16.43" fill="#ffffff" stroke="#ffffff" stroke-width="0.2" font-family="'DejaVu Sans', 'Liberation Sans', sans-serif" font-weight="200">Visibility for RA = 83.6329 dec = 22.0145 (seq 500069, Obsid 00773)</text>
<text x="-393.53 -383.43 -373.64 -366.67 -357.79 -348.26 -338.16 -330.22 -324.33 -314.19 -309.65 -301.11 -296.98 -286.98 -282.79 -278.60 -274.31 -268.62 -258.00 -251.45 -241.60 -231.81 -223.46 -217.37 -205.12 -198.59 -188.59 -184.29" y="0" font-size="16.45" fill="#0080ff" stroke="#0080ff" stroke-width="0.2" font-family="'DejaVu Sans', 'Liberation Sans', sans-serif" font-weight="200" transform="translate(18,0) rotate(-90)">Percent Visibility per Orbit</text>
<text x="-281.46 -269.63 -259.81 -244.16 -240.03 -229.93 -220.13 -214.19 -207.62 -196.48 -186.69 -182.51 -176.57 -170.69 -160.61 -150.41 -140.71 -136.69" y="0" font-size="16.42" fill="#00ff80" stroke="#00ff80" stroke-width="0.2" font-family="'DejaVu Sans', 'Liberation Sans', sans-serif" font-weight="200" transform="translate(833,0) rotate(-90)">Nominal Roll Angle</text>
<text x="-351.11 -341.59 -331.91" y="0" font-size="16.06" fill="#ffff00" stroke="#ffff00" stroke-width="0.2" font-family="'DejaVu Sans', 'Liberation Sans', sans-serif" font-weight="200" transform="translate(833,0) rotate(-90)">and</text>
<text x="-547.07 -536.58 -526.67 -522.32 -512.19 -503.76 -496.35 -485.99 -481.66 -475.04 -465.96 -454.10 -448.16 -437.96 -427.65 -417.84 -413.77" y="0" font-size="16.59" fill="#ff0000" stroke="#ff0000" stroke-width="0.2" font-family="'DejaVu Sans', 'Liberation Sans', sans-serif" font-weight="200" transform="translate(833,0) rotate(-90)">Solar Pitch Angle</text>
</svg>
</body></html>
